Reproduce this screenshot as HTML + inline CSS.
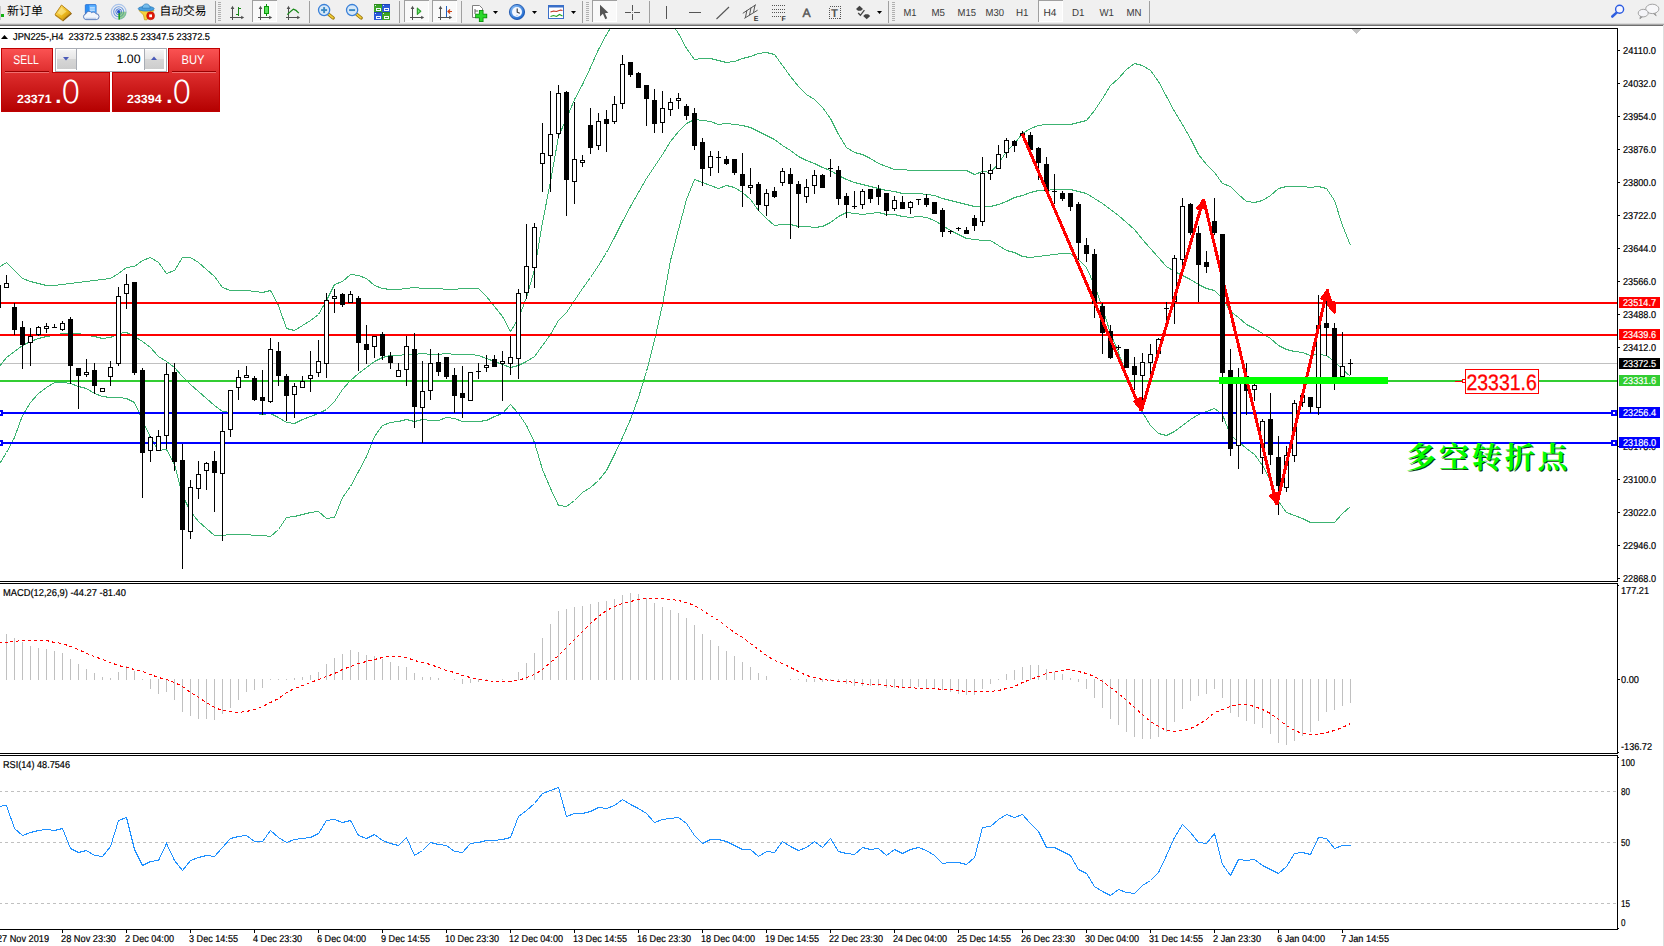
<!DOCTYPE html>
<html><head><meta charset="utf-8"><title>JPN225 H4</title>
<style>
html,body{margin:0;padding:0;background:#fff;}
body{width:1664px;height:946px;overflow:hidden;position:relative;font-family:"Liberation Sans","Noto Sans CJK SC",sans-serif;}
svg text{white-space:pre}
</style></head><body>
<svg width="1664" height="946" viewBox="0 0 1664 946" style="position:absolute;left:0;top:0" shape-rendering="crispEdges" text-rendering="geometricPrecision" font-family="'Liberation Sans',sans-serif">
<defs><clipPath id="cm"><rect x="0" y="29" width="1617" height="552"/></clipPath><clipPath id="cd"><rect x="0" y="929" width="1664" height="17"/></clipPath></defs>
<rect x="0" y="28" width="1618" height="1" fill="#000"/>
<rect x="1617" y="28" width="1" height="554" fill="#000"/>
<rect x="0" y="581" width="1618" height="1" fill="#000"/>
<rect x="0" y="583" width="1618" height="1" fill="#000"/>
<rect x="1617" y="583" width="1" height="171" fill="#000"/>
<rect x="0" y="753" width="1618" height="1" fill="#000"/>
<rect x="0" y="755" width="1618" height="1" fill="#000"/>
<rect x="1617" y="755" width="1" height="175" fill="#000"/>
<rect x="0" y="929" width="1618" height="1" fill="#000"/>
<defs><linearGradient id="gr" x1="0" y1="0" x2="0" y2="1"><stop offset="0" stop-color="#fb5353"/><stop offset="0.35" stop-color="#e03030"/><stop offset="1" stop-color="#b40000"/></linearGradient><linearGradient id="gb" x1="0" y1="0" x2="0" y2="1"><stop offset="0" stop-color="#f4f4f4"/><stop offset="0.45" stop-color="#e6e6e6"/><stop offset="0.5" stop-color="#d6d6d6"/><stop offset="1" stop-color="#cdcdcd"/></linearGradient><linearGradient id="gy" x1="0" y1="0" x2="1" y2="1"><stop offset="0" stop-color="#ffe680"/><stop offset="0.55" stop-color="#eebc20"/><stop offset="1" stop-color="#b87c08"/></linearGradient><radialGradient id="gc" cx="0.4" cy="0.35" r="0.7"><stop offset="0" stop-color="#9fd0ff"/><stop offset="1" stop-color="#1560c8"/></radialGradient></defs>
<rect x="0" y="0" width="1664" height="23" fill="#f0f0f0"/>
<rect x="0" y="23" width="1664" height="1" fill="#dadada"/>
<rect x="0" y="24" width="1664" height="1" fill="#a9a9a9"/>
<rect x="0" y="25" width="1664" height="1" fill="#6f6f6f"/>
<rect x="0" y="26" width="1664" height="2" fill="#ffffff"/>
<rect x="215" y="1" width="1" height="22" fill="#a0a0a0"/>
<rect x="309" y="1" width="1" height="22" fill="#a0a0a0"/>
<rect x="399" y="1" width="1" height="22" fill="#a0a0a0"/>
<rect x="461" y="1" width="1" height="22" fill="#a0a0a0"/>
<rect x="582" y="1" width="1" height="22" fill="#a0a0a0"/>
<rect x="649" y="1" width="1" height="22" fill="#a0a0a0"/>
<rect x="888" y="1" width="1" height="22" fill="#a0a0a0"/>
<rect x="1149" y="1" width="1" height="22" fill="#a0a0a0"/>
<rect x="218" y="2" width="3" height="1" fill="#b0b0b0"/>
<rect x="218" y="4" width="3" height="1" fill="#b0b0b0"/>
<rect x="218" y="6" width="3" height="1" fill="#b0b0b0"/>
<rect x="218" y="8" width="3" height="1" fill="#b0b0b0"/>
<rect x="218" y="10" width="3" height="1" fill="#b0b0b0"/>
<rect x="218" y="12" width="3" height="1" fill="#b0b0b0"/>
<rect x="218" y="14" width="3" height="1" fill="#b0b0b0"/>
<rect x="218" y="16" width="3" height="1" fill="#b0b0b0"/>
<rect x="218" y="18" width="3" height="1" fill="#b0b0b0"/>
<rect x="218" y="20" width="3" height="1" fill="#b0b0b0"/>
<rect x="586" y="2" width="3" height="1" fill="#b0b0b0"/>
<rect x="586" y="4" width="3" height="1" fill="#b0b0b0"/>
<rect x="586" y="6" width="3" height="1" fill="#b0b0b0"/>
<rect x="586" y="8" width="3" height="1" fill="#b0b0b0"/>
<rect x="586" y="10" width="3" height="1" fill="#b0b0b0"/>
<rect x="586" y="12" width="3" height="1" fill="#b0b0b0"/>
<rect x="586" y="14" width="3" height="1" fill="#b0b0b0"/>
<rect x="586" y="16" width="3" height="1" fill="#b0b0b0"/>
<rect x="586" y="18" width="3" height="1" fill="#b0b0b0"/>
<rect x="586" y="20" width="3" height="1" fill="#b0b0b0"/>
<rect x="892" y="2" width="3" height="1" fill="#b0b0b0"/>
<rect x="892" y="4" width="3" height="1" fill="#b0b0b0"/>
<rect x="892" y="6" width="3" height="1" fill="#b0b0b0"/>
<rect x="892" y="8" width="3" height="1" fill="#b0b0b0"/>
<rect x="892" y="10" width="3" height="1" fill="#b0b0b0"/>
<rect x="892" y="12" width="3" height="1" fill="#b0b0b0"/>
<rect x="892" y="14" width="3" height="1" fill="#b0b0b0"/>
<rect x="892" y="16" width="3" height="1" fill="#b0b0b0"/>
<rect x="892" y="18" width="3" height="1" fill="#b0b0b0"/>
<rect x="892" y="20" width="3" height="1" fill="#b0b0b0"/>
<rect x="252" y="0" width="25" height="22" fill="#f9f9f9"/>
<rect x="252" y="0" width="25" height="1" fill="#a0a0a0"/><rect x="252" y="0" width="1" height="22" fill="#a0a0a0"/><rect x="276" y="1" width="1" height="21" fill="#ffffff"/><rect x="253" y="21" width="24" height="1" fill="#ffffff"/>
<rect x="404" y="0" width="25" height="22" fill="#f9f9f9"/>
<rect x="404" y="0" width="25" height="1" fill="#a0a0a0"/><rect x="404" y="0" width="1" height="22" fill="#a0a0a0"/><rect x="428" y="1" width="1" height="21" fill="#ffffff"/><rect x="405" y="21" width="24" height="1" fill="#ffffff"/>
<rect x="432" y="0" width="25" height="22" fill="#f9f9f9"/>
<rect x="432" y="0" width="25" height="1" fill="#a0a0a0"/><rect x="432" y="0" width="1" height="22" fill="#a0a0a0"/><rect x="456" y="1" width="1" height="21" fill="#ffffff"/><rect x="433" y="21" width="24" height="1" fill="#ffffff"/>
<rect x="592" y="0" width="25" height="22" fill="#f9f9f9"/>
<rect x="592" y="0" width="25" height="1" fill="#a0a0a0"/><rect x="592" y="0" width="1" height="22" fill="#a0a0a0"/><rect x="616" y="1" width="1" height="21" fill="#ffffff"/><rect x="593" y="21" width="24" height="1" fill="#ffffff"/>
<rect x="1038" y="0" width="25" height="22" fill="#f9f9f9"/>
<rect x="1038" y="0" width="25" height="1" fill="#a0a0a0"/><rect x="1038" y="0" width="1" height="22" fill="#a0a0a0"/><rect x="1062" y="1" width="1" height="21" fill="#ffffff"/><rect x="1039" y="21" width="24" height="1" fill="#ffffff"/>
<rect x="0" y="14" width="4" height="3" fill="#12b012"/>
<rect x="0" y="6" width="1" height="14" fill="#c8c8c8"/>
<text x="7" y="15.4" font-family="'Liberation Sans','Noto Sans CJK SC','WenQuanYi Zen Hei',sans-serif" font-size="12" fill="#000" textLength="36" lengthAdjust="spacingAndGlyphs">新订单</text>
<text x="159.5" y="15.4" font-family="'Liberation Sans','Noto Sans CJK SC','WenQuanYi Zen Hei',sans-serif" font-size="12" fill="#000" textLength="47" lengthAdjust="spacingAndGlyphs">自动交易</text>
<g shape-rendering="geometricPrecision"><polygon points="62.9,21.4 72,13.8 71,12.8 62.5,20" fill="#8a5c06"/><polygon points="55,14.5 62.5,20 62.8,21.2 55.2,15.8" fill="#b98818"/><polygon points="61.5,5 71,12.8 62.5,20 55,14.5" fill="url(#gy)" stroke="#b07a0c" stroke-width="0.9"/><polygon points="61.3,7.4 66.5,11.6 61.5,15.6 57.6,13" fill="#fff2a8" opacity="0.5"/></g>
<g shape-rendering="geometricPrecision"><rect x="85.3" y="4.6" width="10.8" height="9.4" rx="0.8" fill="#2a8ff6" stroke="#1a62c8" stroke-width="0.7"/><rect x="89.2" y="5.2" width="6.4" height="8" fill="#62b4ff"/><rect x="90" y="7.4" width="4.8" height="1" fill="#eef6ff"/><rect x="90" y="9.6" width="4.8" height="1" fill="#eef6ff"/><path d="M86,19.6 a2.9,2.9 0 0 1 -0.2,-5.7 a3.3,3.3 0 0 1 5.9,-1.2 a2.6,2.6 0 0 1 4.2,1 a2.9,2.9 0 0 1 0.4,5.9 z" fill="#f2f6fc" stroke="#4a6fb4" stroke-width="0.9"/><path d="M85.6,18.4 h10.6" stroke="#c4d2ea" stroke-width="1.4"/></g>
<g shape-rendering="geometricPrecision" fill="none"><circle cx="118.7" cy="11.8" r="7.4" stroke="#a9c3ea" stroke-width="1.1"/><circle cx="118.7" cy="11.8" r="5" stroke="#6d9be2" stroke-width="1.1"/><circle cx="118.7" cy="11.8" r="2.9" stroke="#4a7ada" stroke-width="1"/><path d="M118.7,11.8 L126.5,11.8 A7.8,7.8 0 0 1 118.7,19.6 Z" fill="#5cb85c" opacity="0.6"/><path d="M119.2,12 v7.6" stroke="#18a018" stroke-width="1.5"/><circle cx="118.7" cy="11.8" r="1.7" fill="#2050c8" stroke="none"/></g>
<g shape-rendering="geometricPrecision"><polygon points="139,10.5 154,10.5 149.5,15 147,19.8 144.5,19.8 143.5,15" fill="#f6d23c" stroke="#c49a10" stroke-width="0.7"/><ellipse cx="146.2" cy="8.7" rx="8" ry="2.4" fill="#4aa0e0" stroke="#2a78b8" stroke-width="0.7"/><path d="M142.2,8.2 a4,4.3 0 0 1 8,0 z" fill="#74bcec" stroke="#2a78b8" stroke-width="0.7"/><circle cx="150.6" cy="15.8" r="4" fill="#e01808" stroke="#b41000" stroke-width="0.5"/><rect x="149.2" y="14.4" width="2.8" height="2.8" fill="#fff"/></g>
<path d="M232.5,7.5 v12.5 M230,17.5 h13" stroke="#505050" stroke-width="1" fill="none"/><polygon points="232.5,5.8 230.7,8.9 234.3,8.9" fill="#505050" shape-rendering="geometricPrecision"/><polygon points="244.2,17.5 241.2,15.7 241.2,19.3" fill="#505050" shape-rendering="geometricPrecision"/><path d="M238.5,7 v9 M238.5,8.5 h2.5 M236,14.5 h2.5" stroke="#1a8a1a" stroke-width="1.4" fill="none"/>
<path d="M260.5,7.5 v12.5 M258,17.5 h13" stroke="#505050" stroke-width="1" fill="none"/><polygon points="260.5,5.8 258.7,8.9 262.3,8.9" fill="#505050" shape-rendering="geometricPrecision"/><polygon points="272.2,17.5 269.2,15.7 269.2,19.3" fill="#505050" shape-rendering="geometricPrecision"/><rect x="266" y="4" width="1" height="12" fill="#0c8c0c"/><rect x="264" y="6" width="5" height="8" fill="#0c9a0c"/><rect x="265" y="7" width="3" height="6" fill="#5ce05c"/>
<path d="M288.5,7.5 v12.5 M286,17.5 h13" stroke="#505050" stroke-width="1" fill="none"/><polygon points="288.5,5.8 286.7,8.9 290.3,8.9" fill="#505050" shape-rendering="geometricPrecision"/><polygon points="300.2,17.5 297.2,15.7 297.2,19.3" fill="#505050" shape-rendering="geometricPrecision"/><path d="M287.3,14.6 Q290.5,11.2 293.3,9.2 Q296,9.8 298.8,13.2" stroke="#1a8a1a" stroke-width="1.2" fill="none" shape-rendering="geometricPrecision"/>
<g shape-rendering="geometricPrecision"><line x1="328.6" y1="14.2" x2="333.2" y2="18" stroke="#9a7408" stroke-width="3.3" stroke-linecap="round"/><line x1="328.8" y1="14.3" x2="333" y2="17.8" stroke="#f2cf3a" stroke-width="1.7" stroke-linecap="round"/><circle cx="324.1" cy="10.1" r="5.6" fill="#d6e8f8" stroke="#3a80d8" stroke-width="1.3"/><line x1="321.1" y1="10.1" x2="327.1" y2="10.1" stroke="#3a88c4" stroke-width="1.9"/><line x1="324.1" y1="7.1" x2="324.1" y2="13.1" stroke="#3a88c4" stroke-width="1.9"/></g>
<g shape-rendering="geometricPrecision"><line x1="356.6" y1="14.2" x2="361.2" y2="18" stroke="#9a7408" stroke-width="3.3" stroke-linecap="round"/><line x1="356.8" y1="14.3" x2="361" y2="17.8" stroke="#f2cf3a" stroke-width="1.7" stroke-linecap="round"/><circle cx="352.1" cy="10.1" r="5.6" fill="#d6e8f8" stroke="#3a80d8" stroke-width="1.3"/><line x1="349.1" y1="10.1" x2="355.1" y2="10.1" stroke="#3a88c4" stroke-width="1.9"/></g>
<rect x="374" y="4" width="8" height="8" fill="#3aa428"/><rect x="374" y="4" width="8" height="1" fill="#2c8a1c"/><rect x="375.5" y="7.5" width="5" height="3.5" fill="#f4f8ff"/><rect x="376.5" y="8.5" width="3" height="1" fill="#3aa428"/><rect x="375" y="5" width="1" height="1" fill="#dfe8ff"/>
<rect x="382" y="4" width="8" height="8" fill="#2a5ad8"/><rect x="382" y="4" width="8" height="1" fill="#1c44b8"/><rect x="383.5" y="7.5" width="5" height="3.5" fill="#f4f8ff"/><rect x="384.5" y="8.5" width="3" height="1" fill="#2a5ad8"/><rect x="383" y="5" width="1" height="1" fill="#dfe8ff"/>
<rect x="374" y="12" width="8" height="8" fill="#2a5ad8"/><rect x="374" y="12" width="8" height="1" fill="#1c44b8"/><rect x="375.5" y="15.5" width="5" height="3.5" fill="#f4f8ff"/><rect x="376.5" y="16.5" width="3" height="1" fill="#2a5ad8"/><rect x="375" y="13" width="1" height="1" fill="#dfe8ff"/>
<rect x="382" y="12" width="8" height="8" fill="#3aa428"/><rect x="382" y="12" width="8" height="1" fill="#2c8a1c"/><rect x="383.5" y="15.5" width="5" height="3.5" fill="#f4f8ff"/><rect x="384.5" y="16.5" width="3" height="1" fill="#3aa428"/><rect x="383" y="13" width="1" height="1" fill="#dfe8ff"/>
<path d="M412.5,7.5 v12.5 M410,17.5 h13" stroke="#505050" stroke-width="1" fill="none"/><polygon points="412.5,5.8 410.7,8.9 414.3,8.9" fill="#505050" shape-rendering="geometricPrecision"/><polygon points="424.2,17.5 421.2,15.7 421.2,19.3" fill="#505050" shape-rendering="geometricPrecision"/><polygon points="417.2,7.8 421.2,11.3 417.2,14.8" fill="#20b020" stroke="#0a800a" stroke-width="0.6" shape-rendering="geometricPrecision"/><polygon points="418,9.6 419.8,11.3 418,13" fill="#80e880" shape-rendering="geometricPrecision"/>
<path d="M440.5,7.5 v12.5 M438,17.5 h13" stroke="#505050" stroke-width="1" fill="none"/><polygon points="440.5,5.8 438.7,8.9 442.3,8.9" fill="#505050" shape-rendering="geometricPrecision"/><polygon points="452.2,17.5 449.2,15.7 449.2,19.3" fill="#505050" shape-rendering="geometricPrecision"/><rect x="446" y="6" width="1" height="11" fill="#2060c0"/><path d="M452,11.5 h-4 M450,9.5 l-2,2 l2,2" stroke="#d04010" stroke-width="1.2" fill="none" shape-rendering="geometricPrecision"/>
<g shape-rendering="geometricPrecision"><path d="M472.5,5.5 h7 l3,3 v9 h-10 z" fill="#fff" stroke="#808080" stroke-width="1"/><path d="M475,9 v5 M475,11 h3" stroke="#606060" stroke-width="1" fill="none"/><path d="M481.2,10 v12 M475.2,16 h12" stroke="#0a860a" stroke-width="4.6"/><path d="M481.2,10.8 v10.4 M476,16 h10.4" stroke="#2cd82c" stroke-width="3"/></g>
<g shape-rendering="geometricPrecision"><circle cx="517" cy="12" r="7.6" fill="url(#gc)" stroke="#0f4aa8" stroke-width="0.8"/><circle cx="517" cy="12" r="5" fill="#f4f8ff"/><path d="M517.2,8.6 v3.6 l2.6,1" stroke="#303030" stroke-width="1.1" fill="none"/><circle cx="517" cy="15.3" r="0.6" fill="#7ab0f0"/></g>
<g shape-rendering="geometricPrecision"><rect x="548.5" y="5.5" width="15" height="13" fill="#fff" stroke="#3a6fc8" stroke-width="1"/><rect x="548" y="5" width="16" height="2.5" fill="#3a6fc8"/><path d="M550.5,12 l3,-1 l3,0.5 l4,-1.5 l2,0.5" stroke="#c03020" stroke-width="1.1" fill="none"/><path d="M550.5,16.5 l3,-1 l3,1 l3,-2 l3,1.5" stroke="#20a020" stroke-width="1.1" fill="none"/></g>
<polygon points="493,11 498,11 495.5,14" fill="#000" shape-rendering="geometricPrecision"/>
<polygon points="532,11 537,11 534.5,14" fill="#000" shape-rendering="geometricPrecision"/>
<polygon points="571,11 576,11 573.5,14" fill="#000" shape-rendering="geometricPrecision"/>
<polygon points="877,11 882,11 879.5,14" fill="#000" shape-rendering="geometricPrecision"/>
<polygon points="600,4.8 600,16.4 602.9,13.8 605.3,19.2 607.2,18.3 604.9,13.2 608.4,12.8" fill="#555" shape-rendering="geometricPrecision"/>
<rect x="632" y="5" width="1" height="6" fill="#555"/><rect x="632" y="14" width="1" height="6" fill="#555"/><rect x="625" y="12" width="6" height="1" fill="#555"/><rect x="634" y="12" width="6" height="1" fill="#555"/><rect x="632" y="12" width="1" height="1" fill="#999"/>
<rect x="666" y="6" width="1" height="13" fill="#555"/><rect x="689" y="12" width="12" height="1" fill="#555"/>
<line x1="716.5" y1="19" x2="729" y2="7" stroke="#555" stroke-width="1.1" shape-rendering="geometricPrecision"/>
<g shape-rendering="geometricPrecision" stroke="#555" stroke-width="1" fill="none"><path d="M742.8,13.3 L756,4.6 M744.3,18.4 L757.6,10.2 M746.9,10.2 l-1.5,7.6 M751,7.6 l-1.5,7.6 M755,5 l-1.5,7.6"/></g><text x="753.8" y="20.6" font-size="7" font-weight="bold" fill="#333">E</text>
<line x1="772" y1="5.5" x2="785" y2="5.5" stroke="#555" stroke-width="1" stroke-dasharray="1 1"/>
<line x1="772" y1="9.5" x2="785" y2="9.5" stroke="#555" stroke-width="1" stroke-dasharray="1 1"/>
<line x1="772" y1="12.5" x2="785" y2="12.5" stroke="#555" stroke-width="1" stroke-dasharray="1 1"/>
<line x1="772" y1="16.5" x2="781" y2="16.5" stroke="#555" stroke-width="1" stroke-dasharray="1 1"/>
<text x="781.4" y="20.6" font-size="7" font-weight="bold" fill="#333">F</text>
<text x="802.6" y="17" font-size="12.2" fill="#555" stroke="#555" stroke-width="0.45">A</text>
<rect x="829.5" y="6.5" width="11" height="12" fill="none" stroke="#555" stroke-width="1" stroke-dasharray="1 1"/><text x="830.9" y="17" font-size="11.4" font-weight="bold" fill="#555">T</text>
<g shape-rendering="geometricPrecision" fill="#444"><polygon points="859.5,5.8 863,9 861,10.8 858,10.8 856,9"/><polygon points="866.7,19.2 863.2,16 865.2,14.2 868.2,14.2 870.2,16"/><path d="M858.2,13 l2.2,2.3 l4,-5.2" stroke="#444" stroke-width="1.3" fill="none"/></g>
<text x="903.5" y="16" font-size="10.2" fill="#3a3a3a" textLength="13" lengthAdjust="spacingAndGlyphs" shape-rendering="geometricPrecision">M1</text>
<text x="931.5" y="16" font-size="10.2" fill="#3a3a3a" textLength="13.5" lengthAdjust="spacingAndGlyphs" shape-rendering="geometricPrecision">M5</text>
<text x="957.5" y="16" font-size="10.2" fill="#3a3a3a" textLength="18.5" lengthAdjust="spacingAndGlyphs" shape-rendering="geometricPrecision">M15</text>
<text x="985.5" y="16" font-size="10.2" fill="#3a3a3a" textLength="18.5" lengthAdjust="spacingAndGlyphs" shape-rendering="geometricPrecision">M30</text>
<text x="1016" y="16" font-size="10.2" fill="#3a3a3a" textLength="12.5" lengthAdjust="spacingAndGlyphs" shape-rendering="geometricPrecision">H1</text>
<text x="1043.5" y="16" font-size="10.2" fill="#3a3a3a" textLength="13" lengthAdjust="spacingAndGlyphs" shape-rendering="geometricPrecision">H4</text>
<text x="1072" y="16" font-size="10.2" fill="#3a3a3a" textLength="12.5" lengthAdjust="spacingAndGlyphs" shape-rendering="geometricPrecision">D1</text>
<text x="1099.5" y="16" font-size="10.2" fill="#3a3a3a" textLength="14.5" lengthAdjust="spacingAndGlyphs" shape-rendering="geometricPrecision">W1</text>
<text x="1126.5" y="16" font-size="10.2" fill="#3a3a3a" textLength="15" lengthAdjust="spacingAndGlyphs" shape-rendering="geometricPrecision">MN</text>
<g shape-rendering="geometricPrecision"><line x1="1616.6" y1="12.6" x2="1612.3" y2="16.5" stroke="#2f5fe0" stroke-width="2.6" stroke-linecap="round"/><circle cx="1619.6" cy="9.3" r="4" fill="#f6f6ff" stroke="#2a5ae0" stroke-width="1.4"/></g>
<g shape-rendering="geometricPrecision" stroke="#9a9a9a" stroke-width="0.9"><path d="M1655,13.2 l1.2,2.6 l-3,-2.4 z" fill="#888"/><ellipse cx="1652.3" cy="8.9" rx="6.6" ry="4.7" fill="#f7f7f9"/><path d="M1640.5,16.2 l-0.6,2.6 l2.8,-2.2 z" fill="#888"/><ellipse cx="1643.2" cy="13.1" rx="5" ry="3.8" fill="#f4f4f8"/></g>
<rect x="1663" y="25" width="1" height="921" fill="#dedede"/>
<g clip-path="url(#cm)">
<rect x="0" y="363" width="1617" height="1" fill="#c0c0c0"/>
<polyline points="-1.5,267.5 6.5,262.5 14.5,270.5 22.5,278.5 30.5,281.5 38.5,283.5 46.5,285.5 54.5,285.5 62.5,284.5 70.5,283.5 78.5,282.5 86.5,281.5 94.5,280.5 102.5,279.5 110.5,278.5 118.5,273.5 126.5,267.5 134.5,266.5 142.5,260.5 150.5,257.5 158.5,262.5 166.5,273.5 174.5,270.5 182.5,257.5 190.5,257.5 198.5,262.5 206.5,269.5 214.5,276.5 222.5,287.5 230.5,290.5 238.5,290.5 246.5,290.5 254.5,291.5 262.5,292.5 270.5,290.5 278.5,305.5 286.5,328.5 294.5,330.5 302.5,325.5 310.5,320.5 318.5,314.5 326.5,300.5 334.5,284.5 342.5,281.5 350.5,274.5 358.5,275.5 366.5,278.5 374.5,285.5 382.5,288.5 390.5,289.5 398.5,289.5 406.5,288.5 414.5,287.5 422.5,288.5 430.5,288.5 438.5,288.5 446.5,289.5 454.5,289.5 462.5,288.5 470.5,288.5 478.5,288.5 486.5,296.5 494.5,306.5 502.5,316.5 510.5,331.5 518.5,318.5 526.5,297.5 534.5,269.5 542.5,222.5 550.5,181.5 558.5,136.5 566.5,118.5 574.5,99.5 582.5,84.5 590.5,67.5 598.5,49.5 606.5,34.5 614.5,21.5 622.5,5.5 630.5,-7.5 638.5,-13.5 646.5,-14.5 654.5,-7.5 662.5,3.5 670.5,21.5 678.5,33.5 686.5,48.5 694.5,59.5 702.5,58.5 710.5,58.5 718.5,60.5 726.5,62.5 734.5,61.5 742.5,58.5 750.5,56.5 758.5,53.5 766.5,52.5 774.5,54.5 782.5,65.5 790.5,76.5 798.5,86.5 806.5,94.5 814.5,99.5 822.5,107.5 830.5,118.5 838.5,134.5 846.5,147.5 854.5,152.5 862.5,154.5 870.5,158.5 878.5,163.5 886.5,166.5 894.5,169.5 902.5,169.5 910.5,170.5 918.5,170.5 926.5,170.5 934.5,170.5 942.5,170.5 950.5,170.5 958.5,170.5 966.5,170.5 974.5,174.5 982.5,171.5 990.5,172.5 998.5,163.5 1006.5,151.5 1014.5,143.5 1022.5,133.5 1030.5,128.5 1038.5,125.5 1046.5,124.5 1054.5,124.5 1062.5,124.5 1070.5,124.5 1078.5,122.5 1086.5,120.5 1094.5,110.5 1102.5,98.5 1110.5,85.5 1118.5,78.5 1126.5,69.5 1134.5,63.5 1142.5,65.5 1150.5,70.5 1158.5,81.5 1166.5,96.5 1174.5,111.5 1182.5,124.5 1190.5,138.5 1198.5,154.5 1206.5,164.5 1214.5,172.5 1222.5,183.5 1230.5,186.5 1238.5,194.5 1246.5,201.5 1254.5,202.5 1262.5,200.5 1270.5,195.5 1278.5,188.5 1286.5,186.5 1294.5,186.5 1302.5,186.5 1310.5,187.5 1318.5,186.5 1326.5,188.5 1334.5,200.5 1342.5,225.5 1350.5,245.5" fill="none" stroke="#3cb371" stroke-width="1"/>
<polyline points="-1.5,367.5 6.5,357.5 14.5,351.5 22.5,345.5 30.5,341.5 38.5,338.5 46.5,336.5 54.5,335.5 62.5,333.5 70.5,333.5 78.5,333.5 86.5,335.5 94.5,336.5 102.5,338.5 110.5,337.5 118.5,333.5 126.5,332.5 134.5,336.5 142.5,341.5 150.5,347.5 158.5,356.5 166.5,361.5 174.5,367.5 182.5,376.5 190.5,384.5 198.5,391.5 206.5,398.5 214.5,405.5 222.5,411.5 230.5,412.5 238.5,412.5 246.5,412.5 254.5,413.5 262.5,414.5 270.5,413.5 278.5,417.5 286.5,422.5 294.5,423.5 302.5,419.5 310.5,416.5 318.5,413.5 326.5,409.5 334.5,401.5 342.5,389.5 350.5,380.5 358.5,373.5 366.5,367.5 374.5,361.5 382.5,357.5 390.5,355.5 398.5,355.5 406.5,354.5 414.5,354.5 422.5,353.5 430.5,354.5 438.5,354.5 446.5,353.5 454.5,354.5 462.5,354.5 470.5,354.5 478.5,355.5 486.5,358.5 494.5,361.5 502.5,364.5 510.5,367.5 518.5,365.5 526.5,361.5 534.5,356.5 542.5,345.5 550.5,334.5 558.5,320.5 566.5,312.5 574.5,300.5 582.5,288.5 590.5,277.5 598.5,265.5 606.5,252.5 614.5,237.5 622.5,221.5 630.5,206.5 638.5,192.5 646.5,178.5 654.5,166.5 662.5,154.5 670.5,141.5 678.5,131.5 686.5,123.5 694.5,119.5 702.5,120.5 710.5,121.5 718.5,124.5 726.5,123.5 734.5,124.5 742.5,125.5 750.5,127.5 758.5,131.5 766.5,135.5 774.5,139.5 782.5,145.5 790.5,150.5 798.5,156.5 806.5,160.5 814.5,163.5 822.5,167.5 830.5,170.5 838.5,175.5 846.5,179.5 854.5,182.5 862.5,184.5 870.5,186.5 878.5,188.5 886.5,190.5 894.5,191.5 902.5,193.5 910.5,193.5 918.5,193.5 926.5,194.5 934.5,195.5 942.5,198.5 950.5,200.5 958.5,202.5 966.5,204.5 974.5,206.5 982.5,206.5 990.5,206.5 998.5,204.5 1006.5,201.5 1014.5,197.5 1022.5,195.5 1030.5,192.5 1038.5,190.5 1046.5,190.5 1054.5,189.5 1062.5,189.5 1070.5,189.5 1078.5,191.5 1086.5,193.5 1094.5,198.5 1102.5,203.5 1110.5,209.5 1118.5,215.5 1126.5,222.5 1134.5,229.5 1142.5,239.5 1150.5,248.5 1158.5,257.5 1166.5,266.5 1174.5,271.5 1182.5,275.5 1190.5,279.5 1198.5,284.5 1206.5,288.5 1214.5,290.5 1222.5,298.5 1230.5,311.5 1238.5,317.5 1246.5,324.5 1254.5,328.5 1262.5,333.5 1270.5,338.5 1278.5,345.5 1286.5,349.5 1294.5,351.5 1302.5,352.5 1310.5,355.5 1318.5,354.5 1326.5,355.5 1334.5,361.5 1342.5,369.5 1350.5,376.5" fill="none" stroke="#3cb371" stroke-width="1"/>
<polyline points="-1.5,465.5 6.5,452.5 14.5,437.5 22.5,415.5 30.5,402.5 38.5,393.5 46.5,387.5 54.5,382.5 62.5,382.5 70.5,383.5 78.5,386.5 86.5,388.5 94.5,393.5 102.5,396.5 110.5,397.5 118.5,397.5 126.5,398.5 134.5,402.5 142.5,420.5 150.5,437.5 158.5,450.5 166.5,449.5 174.5,464.5 182.5,495.5 190.5,511.5 198.5,521.5 206.5,528.5 214.5,535.5 222.5,535.5 230.5,534.5 238.5,534.5 246.5,534.5 254.5,535.5 262.5,535.5 270.5,536.5 278.5,529.5 286.5,517.5 294.5,516.5 302.5,514.5 310.5,512.5 318.5,511.5 326.5,518.5 334.5,517.5 342.5,497.5 350.5,486.5 358.5,471.5 366.5,456.5 374.5,436.5 382.5,425.5 390.5,422.5 398.5,421.5 406.5,419.5 414.5,421.5 422.5,419.5 430.5,420.5 438.5,420.5 446.5,417.5 454.5,418.5 462.5,421.5 470.5,421.5 478.5,421.5 486.5,420.5 494.5,416.5 502.5,413.5 510.5,404.5 518.5,413.5 526.5,425.5 534.5,442.5 542.5,469.5 550.5,488.5 558.5,505.5 566.5,506.5 574.5,500.5 582.5,492.5 590.5,487.5 598.5,480.5 606.5,470.5 614.5,454.5 622.5,437.5 630.5,419.5 638.5,397.5 646.5,371.5 654.5,340.5 662.5,304.5 670.5,260.5 678.5,229.5 686.5,199.5 694.5,179.5 702.5,182.5 710.5,185.5 718.5,188.5 726.5,185.5 734.5,187.5 742.5,192.5 750.5,199.5 758.5,210.5 766.5,218.5 774.5,225.5 782.5,224.5 790.5,224.5 798.5,226.5 806.5,226.5 814.5,227.5 822.5,226.5 830.5,222.5 838.5,216.5 846.5,212.5 854.5,213.5 862.5,214.5 870.5,213.5 878.5,212.5 886.5,214.5 894.5,214.5 902.5,216.5 910.5,217.5 918.5,216.5 926.5,217.5 934.5,220.5 942.5,225.5 950.5,230.5 958.5,234.5 966.5,238.5 974.5,239.5 982.5,240.5 990.5,240.5 998.5,245.5 1006.5,250.5 1014.5,252.5 1022.5,256.5 1030.5,257.5 1038.5,256.5 1046.5,255.5 1054.5,254.5 1062.5,253.5 1070.5,253.5 1078.5,259.5 1086.5,267.5 1094.5,285.5 1102.5,307.5 1110.5,333.5 1118.5,352.5 1126.5,374.5 1134.5,395.5 1142.5,412.5 1150.5,425.5 1158.5,433.5 1166.5,435.5 1174.5,431.5 1182.5,425.5 1190.5,419.5 1198.5,414.5 1206.5,411.5 1214.5,408.5 1222.5,414.5 1230.5,435.5 1238.5,441.5 1246.5,448.5 1254.5,454.5 1262.5,465.5 1270.5,480.5 1278.5,501.5 1286.5,512.5 1294.5,515.5 1302.5,518.5 1310.5,522.5 1318.5,522.5 1326.5,522.5 1334.5,522.5 1342.5,513.5 1350.5,506.5" fill="none" stroke="#3cb371" stroke-width="1"/>
<rect x="0" y="302" width="1617" height="2" fill="#ff0000"/>
<rect x="0" y="334" width="1617" height="2" fill="#ff0000"/>
<rect x="0" y="380" width="1617" height="2" fill="#32cd32"/>
<rect x="0" y="412" width="1617" height="2" fill="#0000ff"/>
<rect x="0" y="442" width="1617" height="2" fill="#0000ff"/>
<rect x="-2" y="285" width="1" height="23" fill="#000"/>
<rect x="-4" y="285" width="5" height="23" fill="#000"/>
<rect x="6" y="275" width="1" height="13" fill="#000"/>
<rect x="4" y="283" width="5" height="5" fill="#000"/>
<rect x="5" y="284" width="3" height="3" fill="#fff"/>
<rect x="14" y="303" width="1" height="32" fill="#000"/>
<rect x="12" y="307" width="5" height="23" fill="#000"/>
<rect x="22" y="321" width="1" height="48" fill="#000"/>
<rect x="20" y="327" width="5" height="18" fill="#000"/>
<rect x="30" y="328" width="1" height="38" fill="#000"/>
<rect x="28" y="336" width="5" height="7" fill="#000"/>
<rect x="29" y="337" width="3" height="5" fill="#fff"/>
<rect x="38" y="326" width="1" height="10" fill="#000"/>
<rect x="36" y="327" width="5" height="8" fill="#000"/>
<rect x="37" y="328" width="3" height="6" fill="#fff"/>
<rect x="46" y="323" width="1" height="10" fill="#000"/>
<rect x="44" y="326" width="5" height="3" fill="#000"/>
<rect x="45" y="327" width="3" height="1" fill="#fff"/>
<rect x="54" y="324" width="1" height="4" fill="#000"/>
<rect x="52" y="327" width="5" height="1" fill="#000"/>
<rect x="62" y="321" width="1" height="10" fill="#000"/>
<rect x="60" y="323" width="5" height="7" fill="#000"/>
<rect x="61" y="324" width="3" height="5" fill="#fff"/>
<rect x="70" y="317" width="1" height="67" fill="#000"/>
<rect x="68" y="319" width="5" height="47" fill="#000"/>
<rect x="78" y="368" width="1" height="41" fill="#000"/>
<rect x="76" y="368" width="5" height="8" fill="#000"/>
<rect x="86" y="359" width="1" height="18" fill="#000"/>
<rect x="84" y="372" width="5" height="3" fill="#000"/>
<rect x="85" y="373" width="3" height="1" fill="#fff"/>
<rect x="94" y="363" width="1" height="31" fill="#000"/>
<rect x="92" y="370" width="5" height="16" fill="#000"/>
<rect x="102" y="388" width="1" height="4" fill="#000"/>
<rect x="100" y="388" width="5" height="4" fill="#000"/>
<rect x="101" y="389" width="3" height="2" fill="#fff"/>
<rect x="110" y="361" width="1" height="25" fill="#000"/>
<rect x="108" y="367" width="5" height="10" fill="#000"/>
<rect x="109" y="368" width="3" height="8" fill="#fff"/>
<rect x="118" y="287" width="1" height="79" fill="#000"/>
<rect x="116" y="296" width="5" height="68" fill="#000"/>
<rect x="117" y="297" width="3" height="66" fill="#fff"/>
<rect x="126" y="274" width="1" height="35" fill="#000"/>
<rect x="124" y="284" width="5" height="10" fill="#000"/>
<rect x="125" y="285" width="3" height="8" fill="#fff"/>
<rect x="134" y="282" width="1" height="93" fill="#000"/>
<rect x="132" y="282" width="5" height="91" fill="#000"/>
<rect x="142" y="368" width="1" height="130" fill="#000"/>
<rect x="140" y="370" width="5" height="83" fill="#000"/>
<rect x="150" y="436" width="1" height="26" fill="#000"/>
<rect x="148" y="437" width="5" height="14" fill="#000"/>
<rect x="149" y="438" width="3" height="12" fill="#fff"/>
<rect x="158" y="430" width="1" height="21" fill="#000"/>
<rect x="156" y="436" width="5" height="15" fill="#000"/>
<rect x="157" y="437" width="3" height="13" fill="#fff"/>
<rect x="166" y="363" width="1" height="86" fill="#000"/>
<rect x="164" y="374" width="5" height="62" fill="#000"/>
<rect x="165" y="375" width="3" height="60" fill="#fff"/>
<rect x="174" y="363" width="1" height="108" fill="#000"/>
<rect x="172" y="372" width="5" height="90" fill="#000"/>
<rect x="182" y="444" width="1" height="125" fill="#000"/>
<rect x="180" y="460" width="5" height="70" fill="#000"/>
<rect x="190" y="480" width="1" height="59" fill="#000"/>
<rect x="188" y="487" width="5" height="45" fill="#000"/>
<rect x="189" y="488" width="3" height="43" fill="#fff"/>
<rect x="198" y="461" width="1" height="38" fill="#000"/>
<rect x="196" y="474" width="5" height="15" fill="#000"/>
<rect x="197" y="475" width="3" height="13" fill="#fff"/>
<rect x="206" y="462" width="1" height="28" fill="#000"/>
<rect x="204" y="463" width="5" height="8" fill="#000"/>
<rect x="205" y="464" width="3" height="6" fill="#fff"/>
<rect x="214" y="451" width="1" height="61" fill="#000"/>
<rect x="212" y="461" width="5" height="12" fill="#000"/>
<rect x="222" y="414" width="1" height="127" fill="#000"/>
<rect x="220" y="431" width="5" height="43" fill="#000"/>
<rect x="221" y="432" width="3" height="41" fill="#fff"/>
<rect x="230" y="390" width="1" height="47" fill="#000"/>
<rect x="228" y="390" width="5" height="40" fill="#000"/>
<rect x="229" y="391" width="3" height="38" fill="#fff"/>
<rect x="238" y="370" width="1" height="30" fill="#000"/>
<rect x="236" y="377" width="5" height="11" fill="#000"/>
<rect x="237" y="378" width="3" height="9" fill="#fff"/>
<rect x="246" y="366" width="1" height="12" fill="#000"/>
<rect x="244" y="375" width="5" height="3" fill="#000"/>
<rect x="245" y="376" width="3" height="1" fill="#fff"/>
<rect x="254" y="376" width="1" height="25" fill="#000"/>
<rect x="252" y="378" width="5" height="22" fill="#000"/>
<rect x="262" y="370" width="1" height="45" fill="#000"/>
<rect x="260" y="397" width="5" height="4" fill="#000"/>
<rect x="270" y="338" width="1" height="65" fill="#000"/>
<rect x="268" y="349" width="5" height="53" fill="#000"/>
<rect x="269" y="350" width="3" height="51" fill="#fff"/>
<rect x="278" y="342" width="1" height="44" fill="#000"/>
<rect x="276" y="351" width="5" height="25" fill="#000"/>
<rect x="286" y="374" width="1" height="47" fill="#000"/>
<rect x="284" y="376" width="5" height="20" fill="#000"/>
<rect x="294" y="383" width="1" height="35" fill="#000"/>
<rect x="292" y="386" width="5" height="9" fill="#000"/>
<rect x="293" y="387" width="3" height="7" fill="#fff"/>
<rect x="302" y="376" width="1" height="12" fill="#000"/>
<rect x="300" y="381" width="5" height="7" fill="#000"/>
<rect x="301" y="382" width="3" height="5" fill="#fff"/>
<rect x="310" y="351" width="1" height="41" fill="#000"/>
<rect x="308" y="375" width="5" height="4" fill="#000"/>
<rect x="309" y="376" width="3" height="2" fill="#fff"/>
<rect x="318" y="340" width="1" height="37" fill="#000"/>
<rect x="316" y="361" width="5" height="12" fill="#000"/>
<rect x="317" y="362" width="3" height="10" fill="#fff"/>
<rect x="326" y="293" width="1" height="85" fill="#000"/>
<rect x="324" y="300" width="5" height="64" fill="#000"/>
<rect x="325" y="301" width="3" height="62" fill="#fff"/>
<rect x="334" y="289" width="1" height="24" fill="#000"/>
<rect x="332" y="296" width="5" height="3" fill="#000"/>
<rect x="333" y="297" width="3" height="1" fill="#fff"/>
<rect x="342" y="293" width="1" height="14" fill="#000"/>
<rect x="340" y="294" width="5" height="11" fill="#000"/>
<rect x="350" y="291" width="1" height="12" fill="#000"/>
<rect x="348" y="294" width="5" height="9" fill="#000"/>
<rect x="349" y="295" width="3" height="7" fill="#fff"/>
<rect x="358" y="296" width="1" height="75" fill="#000"/>
<rect x="356" y="298" width="5" height="45" fill="#000"/>
<rect x="366" y="325" width="1" height="39" fill="#000"/>
<rect x="364" y="344" width="5" height="6" fill="#000"/>
<rect x="374" y="336" width="1" height="22" fill="#000"/>
<rect x="372" y="336" width="5" height="11" fill="#000"/>
<rect x="373" y="337" width="3" height="9" fill="#fff"/>
<rect x="382" y="332" width="1" height="28" fill="#000"/>
<rect x="380" y="334" width="5" height="22" fill="#000"/>
<rect x="390" y="352" width="1" height="17" fill="#000"/>
<rect x="388" y="356" width="5" height="7" fill="#000"/>
<rect x="398" y="363" width="1" height="14" fill="#000"/>
<rect x="396" y="370" width="5" height="7" fill="#000"/>
<rect x="397" y="371" width="3" height="5" fill="#fff"/>
<rect x="406" y="336" width="1" height="50" fill="#000"/>
<rect x="404" y="346" width="5" height="24" fill="#000"/>
<rect x="405" y="347" width="3" height="22" fill="#fff"/>
<rect x="414" y="333" width="1" height="95" fill="#000"/>
<rect x="412" y="349" width="5" height="58" fill="#000"/>
<rect x="422" y="361" width="1" height="82" fill="#000"/>
<rect x="420" y="391" width="5" height="17" fill="#000"/>
<rect x="421" y="392" width="3" height="15" fill="#fff"/>
<rect x="430" y="349" width="1" height="51" fill="#000"/>
<rect x="428" y="363" width="5" height="28" fill="#000"/>
<rect x="429" y="364" width="3" height="26" fill="#fff"/>
<rect x="438" y="353" width="1" height="23" fill="#000"/>
<rect x="436" y="362" width="5" height="10" fill="#000"/>
<rect x="446" y="357" width="1" height="22" fill="#000"/>
<rect x="444" y="357" width="5" height="20" fill="#000"/>
<rect x="454" y="368" width="1" height="45" fill="#000"/>
<rect x="452" y="375" width="5" height="21" fill="#000"/>
<rect x="462" y="366" width="1" height="52" fill="#000"/>
<rect x="460" y="393" width="5" height="5" fill="#000"/>
<rect x="470" y="372" width="1" height="29" fill="#000"/>
<rect x="468" y="372" width="5" height="29" fill="#000"/>
<rect x="469" y="373" width="3" height="27" fill="#fff"/>
<rect x="478" y="363" width="1" height="16" fill="#000"/>
<rect x="476" y="371" width="5" height="1" fill="#000"/>
<rect x="486" y="355" width="1" height="17" fill="#000"/>
<rect x="484" y="365" width="5" height="3" fill="#000"/>
<rect x="485" y="366" width="3" height="1" fill="#fff"/>
<rect x="494" y="355" width="1" height="12" fill="#000"/>
<rect x="492" y="359" width="5" height="8" fill="#000"/>
<rect x="502" y="351" width="1" height="50" fill="#000"/>
<rect x="500" y="361" width="5" height="3" fill="#000"/>
<rect x="501" y="362" width="3" height="1" fill="#fff"/>
<rect x="510" y="336" width="1" height="39" fill="#000"/>
<rect x="508" y="357" width="5" height="7" fill="#000"/>
<rect x="509" y="358" width="3" height="5" fill="#fff"/>
<rect x="518" y="289" width="1" height="90" fill="#000"/>
<rect x="516" y="293" width="5" height="66" fill="#000"/>
<rect x="517" y="294" width="3" height="64" fill="#fff"/>
<rect x="526" y="224" width="1" height="75" fill="#000"/>
<rect x="524" y="266" width="5" height="27" fill="#000"/>
<rect x="525" y="267" width="3" height="25" fill="#fff"/>
<rect x="534" y="223" width="1" height="65" fill="#000"/>
<rect x="532" y="227" width="5" height="41" fill="#000"/>
<rect x="533" y="228" width="3" height="39" fill="#fff"/>
<rect x="542" y="123" width="1" height="69" fill="#000"/>
<rect x="540" y="153" width="5" height="11" fill="#000"/>
<rect x="541" y="154" width="3" height="9" fill="#fff"/>
<rect x="550" y="91" width="1" height="101" fill="#000"/>
<rect x="548" y="134" width="5" height="22" fill="#000"/>
<rect x="549" y="135" width="3" height="20" fill="#fff"/>
<rect x="558" y="85" width="1" height="53" fill="#000"/>
<rect x="556" y="93" width="5" height="41" fill="#000"/>
<rect x="557" y="94" width="3" height="39" fill="#fff"/>
<rect x="566" y="91" width="1" height="125" fill="#000"/>
<rect x="564" y="92" width="5" height="88" fill="#000"/>
<rect x="574" y="102" width="1" height="102" fill="#000"/>
<rect x="572" y="159" width="5" height="23" fill="#000"/>
<rect x="573" y="160" width="3" height="21" fill="#fff"/>
<rect x="582" y="155" width="1" height="12" fill="#000"/>
<rect x="580" y="160" width="5" height="3" fill="#000"/>
<rect x="581" y="161" width="3" height="1" fill="#fff"/>
<rect x="590" y="108" width="1" height="46" fill="#000"/>
<rect x="588" y="125" width="5" height="23" fill="#000"/>
<rect x="598" y="113" width="1" height="37" fill="#000"/>
<rect x="596" y="121" width="5" height="25" fill="#000"/>
<rect x="597" y="122" width="3" height="23" fill="#fff"/>
<rect x="606" y="110" width="1" height="42" fill="#000"/>
<rect x="604" y="119" width="5" height="5" fill="#000"/>
<rect x="614" y="96" width="1" height="28" fill="#000"/>
<rect x="612" y="104" width="5" height="18" fill="#000"/>
<rect x="613" y="105" width="3" height="16" fill="#fff"/>
<rect x="622" y="55" width="1" height="54" fill="#000"/>
<rect x="620" y="64" width="5" height="40" fill="#000"/>
<rect x="621" y="65" width="3" height="38" fill="#fff"/>
<rect x="630" y="62" width="1" height="15" fill="#000"/>
<rect x="628" y="62" width="5" height="13" fill="#000"/>
<rect x="638" y="72" width="1" height="16" fill="#000"/>
<rect x="636" y="73" width="5" height="15" fill="#000"/>
<rect x="646" y="85" width="1" height="41" fill="#000"/>
<rect x="644" y="85" width="5" height="14" fill="#000"/>
<rect x="654" y="89" width="1" height="44" fill="#000"/>
<rect x="652" y="100" width="5" height="24" fill="#000"/>
<rect x="662" y="91" width="1" height="42" fill="#000"/>
<rect x="660" y="108" width="5" height="15" fill="#000"/>
<rect x="661" y="109" width="3" height="13" fill="#fff"/>
<rect x="670" y="98" width="1" height="18" fill="#000"/>
<rect x="668" y="102" width="5" height="8" fill="#000"/>
<rect x="669" y="103" width="3" height="6" fill="#fff"/>
<rect x="678" y="93" width="1" height="16" fill="#000"/>
<rect x="676" y="98" width="5" height="3" fill="#000"/>
<rect x="677" y="99" width="3" height="1" fill="#fff"/>
<rect x="686" y="104" width="1" height="16" fill="#000"/>
<rect x="684" y="106" width="5" height="10" fill="#000"/>
<rect x="694" y="108" width="1" height="42" fill="#000"/>
<rect x="692" y="113" width="5" height="33" fill="#000"/>
<rect x="702" y="138" width="1" height="48" fill="#000"/>
<rect x="700" y="142" width="5" height="27" fill="#000"/>
<rect x="710" y="151" width="1" height="25" fill="#000"/>
<rect x="708" y="156" width="5" height="12" fill="#000"/>
<rect x="709" y="157" width="3" height="10" fill="#fff"/>
<rect x="718" y="151" width="1" height="22" fill="#000"/>
<rect x="716" y="157" width="5" height="1" fill="#000"/>
<rect x="726" y="156" width="1" height="9" fill="#000"/>
<rect x="724" y="159" width="5" height="5" fill="#000"/>
<rect x="734" y="159" width="1" height="16" fill="#000"/>
<rect x="732" y="159" width="5" height="14" fill="#000"/>
<rect x="742" y="153" width="1" height="54" fill="#000"/>
<rect x="740" y="174" width="5" height="12" fill="#000"/>
<rect x="750" y="168" width="1" height="26" fill="#000"/>
<rect x="748" y="185" width="5" height="3" fill="#000"/>
<rect x="749" y="186" width="3" height="1" fill="#fff"/>
<rect x="758" y="182" width="1" height="29" fill="#000"/>
<rect x="756" y="184" width="5" height="21" fill="#000"/>
<rect x="766" y="189" width="1" height="27" fill="#000"/>
<rect x="764" y="193" width="5" height="13" fill="#000"/>
<rect x="765" y="194" width="3" height="11" fill="#fff"/>
<rect x="774" y="187" width="1" height="11" fill="#000"/>
<rect x="772" y="191" width="5" height="6" fill="#000"/>
<rect x="782" y="168" width="1" height="18" fill="#000"/>
<rect x="780" y="171" width="5" height="12" fill="#000"/>
<rect x="781" y="172" width="3" height="10" fill="#fff"/>
<rect x="790" y="168" width="1" height="71" fill="#000"/>
<rect x="788" y="174" width="5" height="10" fill="#000"/>
<rect x="798" y="181" width="1" height="47" fill="#000"/>
<rect x="796" y="184" width="5" height="10" fill="#000"/>
<rect x="806" y="179" width="1" height="24" fill="#000"/>
<rect x="804" y="187" width="5" height="10" fill="#000"/>
<rect x="805" y="188" width="3" height="8" fill="#fff"/>
<rect x="814" y="170" width="1" height="24" fill="#000"/>
<rect x="812" y="175" width="5" height="11" fill="#000"/>
<rect x="813" y="176" width="3" height="9" fill="#fff"/>
<rect x="822" y="174" width="1" height="14" fill="#000"/>
<rect x="820" y="175" width="5" height="13" fill="#000"/>
<rect x="830" y="159" width="1" height="18" fill="#000"/>
<rect x="828" y="168" width="5" height="1" fill="#000"/>
<rect x="838" y="166" width="1" height="39" fill="#000"/>
<rect x="836" y="170" width="5" height="29" fill="#000"/>
<rect x="846" y="193" width="1" height="25" fill="#000"/>
<rect x="844" y="196" width="5" height="9" fill="#000"/>
<rect x="854" y="191" width="1" height="18" fill="#000"/>
<rect x="852" y="206" width="5" height="1" fill="#000"/>
<rect x="862" y="189" width="1" height="20" fill="#000"/>
<rect x="860" y="191" width="5" height="14" fill="#000"/>
<rect x="861" y="192" width="3" height="12" fill="#fff"/>
<rect x="870" y="189" width="1" height="14" fill="#000"/>
<rect x="868" y="189" width="5" height="10" fill="#000"/>
<rect x="878" y="185" width="1" height="20" fill="#000"/>
<rect x="876" y="189" width="5" height="8" fill="#000"/>
<rect x="886" y="193" width="1" height="23" fill="#000"/>
<rect x="884" y="193" width="5" height="18" fill="#000"/>
<rect x="894" y="196" width="1" height="15" fill="#000"/>
<rect x="892" y="200" width="5" height="9" fill="#000"/>
<rect x="893" y="201" width="3" height="7" fill="#fff"/>
<rect x="902" y="196" width="1" height="13" fill="#000"/>
<rect x="900" y="202" width="5" height="7" fill="#000"/>
<rect x="910" y="201" width="1" height="13" fill="#000"/>
<rect x="908" y="202" width="5" height="6" fill="#000"/>
<rect x="909" y="203" width="3" height="4" fill="#fff"/>
<rect x="918" y="199" width="1" height="6" fill="#000"/>
<rect x="916" y="199" width="5" height="1" fill="#000"/>
<rect x="926" y="194" width="1" height="13" fill="#000"/>
<rect x="924" y="198" width="5" height="7" fill="#000"/>
<rect x="934" y="202" width="1" height="12" fill="#000"/>
<rect x="932" y="202" width="5" height="12" fill="#000"/>
<rect x="942" y="208" width="1" height="29" fill="#000"/>
<rect x="940" y="210" width="5" height="22" fill="#000"/>
<rect x="950" y="230" width="1" height="4" fill="#000"/>
<rect x="948" y="231" width="5" height="1" fill="#000"/>
<rect x="958" y="227" width="1" height="4" fill="#000"/>
<rect x="956" y="228" width="5" height="1" fill="#000"/>
<rect x="966" y="227" width="1" height="7" fill="#000"/>
<rect x="964" y="230" width="5" height="4" fill="#000"/>
<rect x="974" y="215" width="1" height="16" fill="#000"/>
<rect x="972" y="218" width="5" height="8" fill="#000"/>
<rect x="982" y="157" width="1" height="69" fill="#000"/>
<rect x="980" y="173" width="5" height="49" fill="#000"/>
<rect x="981" y="174" width="3" height="47" fill="#fff"/>
<rect x="990" y="164" width="1" height="16" fill="#000"/>
<rect x="988" y="170" width="5" height="4" fill="#000"/>
<rect x="989" y="171" width="3" height="2" fill="#fff"/>
<rect x="998" y="145" width="1" height="24" fill="#000"/>
<rect x="996" y="154" width="5" height="15" fill="#000"/>
<rect x="997" y="155" width="3" height="13" fill="#fff"/>
<rect x="1006" y="138" width="1" height="20" fill="#000"/>
<rect x="1004" y="140" width="5" height="13" fill="#000"/>
<rect x="1005" y="141" width="3" height="11" fill="#fff"/>
<rect x="1014" y="140" width="1" height="12" fill="#000"/>
<rect x="1012" y="141" width="5" height="5" fill="#000"/>
<rect x="1022" y="131" width="1" height="6" fill="#000"/>
<rect x="1020" y="133" width="5" height="3" fill="#000"/>
<rect x="1030" y="132" width="1" height="18" fill="#000"/>
<rect x="1028" y="135" width="5" height="15" fill="#000"/>
<rect x="1038" y="147" width="1" height="33" fill="#000"/>
<rect x="1036" y="148" width="5" height="15" fill="#000"/>
<rect x="1046" y="157" width="1" height="34" fill="#000"/>
<rect x="1044" y="164" width="5" height="27" fill="#000"/>
<rect x="1054" y="174" width="1" height="30" fill="#000"/>
<rect x="1052" y="191" width="5" height="1" fill="#000"/>
<rect x="1062" y="191" width="1" height="10" fill="#000"/>
<rect x="1060" y="193" width="5" height="6" fill="#000"/>
<rect x="1070" y="193" width="1" height="18" fill="#000"/>
<rect x="1068" y="193" width="5" height="14" fill="#000"/>
<rect x="1078" y="202" width="1" height="58" fill="#000"/>
<rect x="1076" y="204" width="5" height="39" fill="#000"/>
<rect x="1086" y="238" width="1" height="24" fill="#000"/>
<rect x="1084" y="245" width="5" height="9" fill="#000"/>
<rect x="1094" y="249" width="1" height="69" fill="#000"/>
<rect x="1092" y="254" width="5" height="50" fill="#000"/>
<rect x="1102" y="303" width="1" height="51" fill="#000"/>
<rect x="1100" y="306" width="5" height="27" fill="#000"/>
<rect x="1110" y="325" width="1" height="34" fill="#000"/>
<rect x="1108" y="331" width="5" height="27" fill="#000"/>
<rect x="1118" y="345" width="1" height="5" fill="#000"/>
<rect x="1116" y="347" width="5" height="1" fill="#000"/>
<rect x="1126" y="349" width="1" height="19" fill="#000"/>
<rect x="1124" y="349" width="5" height="19" fill="#000"/>
<rect x="1134" y="357" width="1" height="33" fill="#000"/>
<rect x="1132" y="366" width="5" height="9" fill="#000"/>
<rect x="1142" y="353" width="1" height="47" fill="#000"/>
<rect x="1140" y="362" width="5" height="14" fill="#000"/>
<rect x="1141" y="363" width="3" height="12" fill="#fff"/>
<rect x="1150" y="344" width="1" height="30" fill="#000"/>
<rect x="1148" y="354" width="5" height="9" fill="#000"/>
<rect x="1149" y="355" width="3" height="7" fill="#fff"/>
<rect x="1158" y="338" width="1" height="18" fill="#000"/>
<rect x="1156" y="339" width="5" height="15" fill="#000"/>
<rect x="1157" y="340" width="3" height="13" fill="#fff"/>
<rect x="1166" y="302" width="1" height="18" fill="#000"/>
<rect x="1164" y="308" width="5" height="1" fill="#000"/>
<rect x="1174" y="255" width="1" height="69" fill="#000"/>
<rect x="1172" y="258" width="5" height="44" fill="#000"/>
<rect x="1173" y="259" width="3" height="42" fill="#fff"/>
<rect x="1182" y="198" width="1" height="68" fill="#000"/>
<rect x="1180" y="206" width="5" height="54" fill="#000"/>
<rect x="1181" y="207" width="3" height="52" fill="#fff"/>
<rect x="1190" y="203" width="1" height="32" fill="#000"/>
<rect x="1188" y="204" width="5" height="29" fill="#000"/>
<rect x="1198" y="226" width="1" height="76" fill="#000"/>
<rect x="1196" y="233" width="5" height="32" fill="#000"/>
<rect x="1206" y="251" width="1" height="22" fill="#000"/>
<rect x="1204" y="262" width="5" height="5" fill="#000"/>
<rect x="1214" y="198" width="1" height="37" fill="#000"/>
<rect x="1212" y="221" width="5" height="12" fill="#000"/>
<rect x="1222" y="234" width="1" height="188" fill="#000"/>
<rect x="1220" y="234" width="5" height="139" fill="#000"/>
<rect x="1230" y="349" width="1" height="107" fill="#000"/>
<rect x="1228" y="370" width="5" height="79" fill="#000"/>
<rect x="1238" y="368" width="1" height="101" fill="#000"/>
<rect x="1236" y="380" width="5" height="66" fill="#000"/>
<rect x="1237" y="381" width="3" height="64" fill="#fff"/>
<rect x="1246" y="363" width="1" height="52" fill="#000"/>
<rect x="1244" y="376" width="5" height="15" fill="#000"/>
<rect x="1254" y="384" width="1" height="17" fill="#000"/>
<rect x="1252" y="385" width="5" height="5" fill="#000"/>
<rect x="1253" y="386" width="3" height="3" fill="#fff"/>
<rect x="1262" y="419" width="1" height="55" fill="#000"/>
<rect x="1260" y="421" width="5" height="37" fill="#000"/>
<rect x="1261" y="422" width="3" height="35" fill="#fff"/>
<rect x="1270" y="393" width="1" height="72" fill="#000"/>
<rect x="1268" y="419" width="5" height="36" fill="#000"/>
<rect x="1278" y="436" width="1" height="79" fill="#000"/>
<rect x="1276" y="457" width="5" height="29" fill="#000"/>
<rect x="1286" y="446" width="1" height="46" fill="#000"/>
<rect x="1284" y="455" width="5" height="33" fill="#000"/>
<rect x="1285" y="456" width="3" height="31" fill="#fff"/>
<rect x="1294" y="400" width="1" height="62" fill="#000"/>
<rect x="1292" y="403" width="5" height="53" fill="#000"/>
<rect x="1293" y="404" width="3" height="51" fill="#fff"/>
<rect x="1302" y="394" width="1" height="13" fill="#000"/>
<rect x="1300" y="395" width="5" height="8" fill="#000"/>
<rect x="1301" y="396" width="3" height="6" fill="#fff"/>
<rect x="1310" y="397" width="1" height="16" fill="#000"/>
<rect x="1308" y="397" width="5" height="10" fill="#000"/>
<rect x="1318" y="295" width="1" height="120" fill="#000"/>
<rect x="1316" y="325" width="5" height="83" fill="#000"/>
<rect x="1317" y="326" width="3" height="81" fill="#fff"/>
<rect x="1326" y="301" width="1" height="55" fill="#000"/>
<rect x="1324" y="323" width="5" height="5" fill="#000"/>
<rect x="1334" y="323" width="1" height="67" fill="#000"/>
<rect x="1332" y="328" width="5" height="50" fill="#000"/>
<rect x="1342" y="332" width="1" height="45" fill="#000"/>
<rect x="1340" y="366" width="5" height="11" fill="#000"/>
<rect x="1341" y="367" width="3" height="9" fill="#fff"/>
<rect x="1350" y="359" width="1" height="16" fill="#000"/>
<rect x="1348" y="363" width="5" height="1" fill="#000"/>
<rect x="1611" y="410" width="6" height="6" fill="#0000ff"/>
<rect x="1613" y="412" width="2" height="2" fill="#fff"/>
<rect x="-3" y="410" width="6" height="6" fill="#0000ff"/>
<rect x="-1" y="412" width="2" height="2" fill="#fff"/>
<rect x="1611" y="440" width="6" height="6" fill="#0000ff"/>
<rect x="1613" y="442" width="2" height="2" fill="#fff"/>
<rect x="-3" y="440" width="6" height="6" fill="#0000ff"/>
<rect x="-1" y="442" width="2" height="2" fill="#fff"/>
<line x1="1022.2" y1="133.8" x2="1141.3" y2="411" stroke="#ff0000" stroke-width="3"/>
<line x1="1141.3" y1="411" x2="1203.5" y2="199" stroke="#ff0000" stroke-width="3"/>
<line x1="1203.5" y1="199" x2="1276.7" y2="505" stroke="#ff0000" stroke-width="3"/>
<line x1="1276.7" y1="505" x2="1327.5" y2="289" stroke="#ff0000" stroke-width="3"/>
<polygon points="1141.35,411.4 1132.8,401.4 1134.6,399.8 1140.5,396.9 1145.5,398.2" fill="#ff0000"/>
<polygon points="1203.5,198.7 1196,208 1197.5,210 1202,209.5 1207.3,208" fill="#ff0000"/>
<polygon points="1276.7,505.3 1268.9,496 1270.6,493.9 1275.6,492 1280,492.7" fill="#ff0000"/>
<polygon points="1327.5,288.6 1330.5,295.5 1332,301 1334.5,300.8 1336.3,304 1336,313 1334.6,314.4 1326.2,304.8 1324.5,300.5 1321.5,300.3 1320.1,298.2" fill="#ff0000"/>
<rect x="1134" y="357" width="1" height="33" fill="#000"/>
<rect x="1132" y="366" width="5" height="9" fill="#000"/>
<rect x="1142" y="353" width="1" height="47" fill="#000"/>
<rect x="1140" y="362" width="5" height="14" fill="#000"/>
<rect x="1141" y="363" width="3" height="12" fill="#fff"/>
<rect x="1190" y="203" width="1" height="32" fill="#000"/>
<rect x="1188" y="204" width="5" height="29" fill="#000"/>
<rect x="1198" y="226" width="1" height="76" fill="#000"/>
<rect x="1196" y="233" width="5" height="32" fill="#000"/>
<rect x="1214" y="198" width="1" height="37" fill="#000"/>
<rect x="1212" y="221" width="5" height="12" fill="#000"/>
<rect x="1222" y="234" width="1" height="188" fill="#000"/>
<rect x="1220" y="234" width="5" height="139" fill="#000"/>
<rect x="1318" y="295" width="1" height="30" fill="#000"/>
<rect x="1326" y="301" width="1" height="55" fill="#000"/>
<rect x="1324" y="323" width="5" height="5" fill="#000"/>
<rect x="1219" y="377" width="169" height="7" fill="#00ff00"/>
<rect x="1455" y="381" width="8" height="1" fill="#ff0000"/>
<rect x="1462" y="379" width="4" height="4" fill="#ff0000"/>
<rect x="1463" y="380" width="2" height="2" fill="#fff"/>
<rect x="1465" y="369" width="74" height="25" fill="#ff0000"/>
<rect x="1466" y="370" width="72" height="23" fill="#fff"/>
<text x="1466.4" y="390" font-size="22.3" fill="#ff0000" stroke="#ff0000" stroke-width="0.35" textLength="70.4" lengthAdjust="spacingAndGlyphs" shape-rendering="geometricPrecision">23331.6</text>
<text x="1407.1" y="468.6" font-family="'Liberation Serif','Noto Serif CJK SC','Noto Sans CJK SC',serif" font-weight="700" font-size="30" fill="#0a3a0a" textLength="161.5" lengthAdjust="spacing">多空转折点</text>
<text x="1406.1" y="467.6" font-family="'Liberation Serif','Noto Serif CJK SC','Noto Sans CJK SC',serif" font-weight="700" font-size="30" fill="#00ff00" textLength="161.5" lengthAdjust="spacing">多空转折点</text>
</g>
<rect x="1618" y="50" width="2" height="1" fill="#000"/>
<text x="1623" y="54" font-size="10" stroke="#000" stroke-width="0.2" fill="#000" textLength="33" lengthAdjust="spacingAndGlyphs">24110.0</text>
<rect x="1618" y="83" width="2" height="1" fill="#000"/>
<text x="1623" y="87" font-size="10" stroke="#000" stroke-width="0.2" fill="#000" textLength="33" lengthAdjust="spacingAndGlyphs">24032.0</text>
<rect x="1618" y="116" width="2" height="1" fill="#000"/>
<text x="1623" y="120" font-size="10" stroke="#000" stroke-width="0.2" fill="#000" textLength="33" lengthAdjust="spacingAndGlyphs">23954.0</text>
<rect x="1618" y="149" width="2" height="1" fill="#000"/>
<text x="1623" y="153" font-size="10" stroke="#000" stroke-width="0.2" fill="#000" textLength="33" lengthAdjust="spacingAndGlyphs">23876.0</text>
<rect x="1618" y="182" width="2" height="1" fill="#000"/>
<text x="1623" y="186" font-size="10" stroke="#000" stroke-width="0.2" fill="#000" textLength="33" lengthAdjust="spacingAndGlyphs">23800.0</text>
<rect x="1618" y="215" width="2" height="1" fill="#000"/>
<text x="1623" y="219" font-size="10" stroke="#000" stroke-width="0.2" fill="#000" textLength="33" lengthAdjust="spacingAndGlyphs">23722.0</text>
<rect x="1618" y="248" width="2" height="1" fill="#000"/>
<text x="1623" y="252" font-size="10" stroke="#000" stroke-width="0.2" fill="#000" textLength="33" lengthAdjust="spacingAndGlyphs">23644.0</text>
<rect x="1618" y="281" width="2" height="1" fill="#000"/>
<text x="1623" y="285" font-size="10" stroke="#000" stroke-width="0.2" fill="#000" textLength="33" lengthAdjust="spacingAndGlyphs">23566.0</text>
<rect x="1618" y="314" width="2" height="1" fill="#000"/>
<text x="1623" y="318" font-size="10" stroke="#000" stroke-width="0.2" fill="#000" textLength="33" lengthAdjust="spacingAndGlyphs">23488.0</text>
<rect x="1618" y="347" width="2" height="1" fill="#000"/>
<text x="1623" y="351" font-size="10" stroke="#000" stroke-width="0.2" fill="#000" textLength="33" lengthAdjust="spacingAndGlyphs">23412.0</text>
<rect x="1618" y="446" width="2" height="1" fill="#000"/>
<text x="1623" y="450" font-size="10" stroke="#000" stroke-width="0.2" fill="#000" textLength="33" lengthAdjust="spacingAndGlyphs">23178.0</text>
<rect x="1618" y="479" width="2" height="1" fill="#000"/>
<text x="1623" y="483" font-size="10" stroke="#000" stroke-width="0.2" fill="#000" textLength="33" lengthAdjust="spacingAndGlyphs">23100.0</text>
<rect x="1618" y="512" width="2" height="1" fill="#000"/>
<text x="1623" y="516" font-size="10" stroke="#000" stroke-width="0.2" fill="#000" textLength="33" lengthAdjust="spacingAndGlyphs">23022.0</text>
<rect x="1618" y="545" width="2" height="1" fill="#000"/>
<text x="1623" y="549" font-size="10" stroke="#000" stroke-width="0.2" fill="#000" textLength="33" lengthAdjust="spacingAndGlyphs">22946.0</text>
<rect x="1618" y="578" width="2" height="1" fill="#000"/>
<text x="1623" y="582" font-size="10" stroke="#000" stroke-width="0.2" fill="#000" textLength="33" lengthAdjust="spacingAndGlyphs">22868.0</text>
<rect x="1619" y="297" width="41" height="11" fill="#ff0000"/><text x="1623" y="306" font-size="10" stroke="#fff" stroke-width="0.2" fill="#fff" textLength="33" lengthAdjust="spacingAndGlyphs">23514.7</text>
<rect x="1619" y="329" width="41" height="11" fill="#ff0000"/><text x="1623" y="338" font-size="10" stroke="#fff" stroke-width="0.2" fill="#fff" textLength="33" lengthAdjust="spacingAndGlyphs">23439.6</text>
<rect x="1619" y="358" width="41" height="11" fill="#000"/><text x="1623" y="367" font-size="10" stroke="#fff" stroke-width="0.2" fill="#fff" textLength="33" lengthAdjust="spacingAndGlyphs">23372.5</text>
<rect x="1619" y="375" width="41" height="11" fill="#32cd32"/><text x="1623" y="384" font-size="10" stroke="#fff" stroke-width="0.2" fill="#fff" textLength="33" lengthAdjust="spacingAndGlyphs">23331.6</text>
<rect x="1619" y="407" width="41" height="11" fill="#0000ff"/><text x="1623" y="416" font-size="10" stroke="#fff" stroke-width="0.2" fill="#fff" textLength="33" lengthAdjust="spacingAndGlyphs">23256.4</text>
<rect x="1619" y="437" width="41" height="11" fill="#0000ff"/><text x="1623" y="446" font-size="10" stroke="#fff" stroke-width="0.2" fill="#fff" textLength="33" lengthAdjust="spacingAndGlyphs">23186.0</text>
<rect x="6" y="634" width="1" height="46" fill="#c0c0c0"/>
<rect x="14" y="638" width="1" height="42" fill="#c0c0c0"/>
<rect x="22" y="642" width="1" height="38" fill="#c0c0c0"/>
<rect x="30" y="646" width="1" height="34" fill="#c0c0c0"/>
<rect x="38" y="648" width="1" height="32" fill="#c0c0c0"/>
<rect x="46" y="649" width="1" height="31" fill="#c0c0c0"/>
<rect x="54" y="651" width="1" height="29" fill="#c0c0c0"/>
<rect x="62" y="653" width="1" height="27" fill="#c0c0c0"/>
<rect x="70" y="659" width="1" height="21" fill="#c0c0c0"/>
<rect x="78" y="664" width="1" height="16" fill="#c0c0c0"/>
<rect x="86" y="669" width="1" height="11" fill="#c0c0c0"/>
<rect x="94" y="673" width="1" height="7" fill="#c0c0c0"/>
<rect x="102" y="677" width="1" height="3" fill="#c0c0c0"/>
<rect x="110" y="678" width="1" height="2" fill="#c0c0c0"/>
<rect x="118" y="672" width="1" height="8" fill="#c0c0c0"/>
<rect x="126" y="666" width="1" height="14" fill="#c0c0c0"/>
<rect x="134" y="671" width="1" height="9" fill="#c0c0c0"/>
<rect x="142" y="679" width="1" height="1" fill="#c0c0c0"/>
<rect x="150" y="679" width="1" height="10" fill="#c0c0c0"/>
<rect x="158" y="679" width="1" height="15" fill="#c0c0c0"/>
<rect x="166" y="679" width="1" height="13" fill="#c0c0c0"/>
<rect x="174" y="679" width="1" height="21" fill="#c0c0c0"/>
<rect x="182" y="679" width="1" height="33" fill="#c0c0c0"/>
<rect x="190" y="679" width="1" height="37" fill="#c0c0c0"/>
<rect x="198" y="679" width="1" height="40" fill="#c0c0c0"/>
<rect x="206" y="679" width="1" height="40" fill="#c0c0c0"/>
<rect x="214" y="679" width="1" height="41" fill="#c0c0c0"/>
<rect x="222" y="679" width="1" height="35" fill="#c0c0c0"/>
<rect x="230" y="679" width="1" height="29" fill="#c0c0c0"/>
<rect x="238" y="679" width="1" height="21" fill="#c0c0c0"/>
<rect x="246" y="679" width="1" height="13" fill="#c0c0c0"/>
<rect x="254" y="679" width="1" height="11" fill="#c0c0c0"/>
<rect x="262" y="679" width="1" height="9" fill="#c0c0c0"/>
<rect x="270" y="679" width="1" height="1" fill="#c0c0c0"/>
<rect x="278" y="679" width="1" height="1" fill="#c0c0c0"/>
<rect x="286" y="679" width="1" height="1" fill="#c0c0c0"/>
<rect x="294" y="678" width="1" height="2" fill="#c0c0c0"/>
<rect x="302" y="677" width="1" height="3" fill="#c0c0c0"/>
<rect x="310" y="675" width="1" height="5" fill="#c0c0c0"/>
<rect x="318" y="672" width="1" height="8" fill="#c0c0c0"/>
<rect x="326" y="664" width="1" height="16" fill="#c0c0c0"/>
<rect x="334" y="658" width="1" height="22" fill="#c0c0c0"/>
<rect x="342" y="654" width="1" height="26" fill="#c0c0c0"/>
<rect x="350" y="650" width="1" height="30" fill="#c0c0c0"/>
<rect x="358" y="652" width="1" height="28" fill="#c0c0c0"/>
<rect x="366" y="655" width="1" height="25" fill="#c0c0c0"/>
<rect x="374" y="656" width="1" height="24" fill="#c0c0c0"/>
<rect x="382" y="659" width="1" height="21" fill="#c0c0c0"/>
<rect x="390" y="662" width="1" height="18" fill="#c0c0c0"/>
<rect x="398" y="666" width="1" height="14" fill="#c0c0c0"/>
<rect x="406" y="667" width="1" height="13" fill="#c0c0c0"/>
<rect x="414" y="673" width="1" height="7" fill="#c0c0c0"/>
<rect x="422" y="677" width="1" height="3" fill="#c0c0c0"/>
<rect x="430" y="677" width="1" height="3" fill="#c0c0c0"/>
<rect x="438" y="678" width="1" height="2" fill="#c0c0c0"/>
<rect x="454" y="679" width="1" height="1" fill="#c0c0c0"/>
<rect x="462" y="679" width="1" height="5" fill="#c0c0c0"/>
<rect x="470" y="679" width="1" height="4" fill="#c0c0c0"/>
<rect x="478" y="679" width="1" height="3" fill="#c0c0c0"/>
<rect x="486" y="679" width="1" height="2" fill="#c0c0c0"/>
<rect x="502" y="679" width="1" height="1" fill="#c0c0c0"/>
<rect x="518" y="672" width="1" height="8" fill="#c0c0c0"/>
<rect x="526" y="663" width="1" height="17" fill="#c0c0c0"/>
<rect x="534" y="653" width="1" height="27" fill="#c0c0c0"/>
<rect x="542" y="638" width="1" height="42" fill="#c0c0c0"/>
<rect x="550" y="624" width="1" height="56" fill="#c0c0c0"/>
<rect x="558" y="611" width="1" height="69" fill="#c0c0c0"/>
<rect x="566" y="609" width="1" height="71" fill="#c0c0c0"/>
<rect x="574" y="607" width="1" height="73" fill="#c0c0c0"/>
<rect x="582" y="606" width="1" height="74" fill="#c0c0c0"/>
<rect x="590" y="604" width="1" height="76" fill="#c0c0c0"/>
<rect x="598" y="602" width="1" height="78" fill="#c0c0c0"/>
<rect x="606" y="601" width="1" height="79" fill="#c0c0c0"/>
<rect x="614" y="599" width="1" height="81" fill="#c0c0c0"/>
<rect x="622" y="595" width="1" height="85" fill="#c0c0c0"/>
<rect x="630" y="593" width="1" height="87" fill="#c0c0c0"/>
<rect x="638" y="594" width="1" height="86" fill="#c0c0c0"/>
<rect x="646" y="598" width="1" height="82" fill="#c0c0c0"/>
<rect x="654" y="603" width="1" height="77" fill="#c0c0c0"/>
<rect x="662" y="607" width="1" height="73" fill="#c0c0c0"/>
<rect x="670" y="610" width="1" height="70" fill="#c0c0c0"/>
<rect x="678" y="613" width="1" height="67" fill="#c0c0c0"/>
<rect x="686" y="618" width="1" height="62" fill="#c0c0c0"/>
<rect x="694" y="625" width="1" height="55" fill="#c0c0c0"/>
<rect x="702" y="634" width="1" height="46" fill="#c0c0c0"/>
<rect x="710" y="640" width="1" height="40" fill="#c0c0c0"/>
<rect x="718" y="646" width="1" height="34" fill="#c0c0c0"/>
<rect x="726" y="651" width="1" height="29" fill="#c0c0c0"/>
<rect x="734" y="656" width="1" height="24" fill="#c0c0c0"/>
<rect x="742" y="662" width="1" height="18" fill="#c0c0c0"/>
<rect x="750" y="667" width="1" height="13" fill="#c0c0c0"/>
<rect x="758" y="673" width="1" height="7" fill="#c0c0c0"/>
<rect x="766" y="676" width="1" height="4" fill="#c0c0c0"/>
<rect x="790" y="679" width="1" height="1" fill="#c0c0c0"/>
<rect x="798" y="679" width="1" height="1" fill="#c0c0c0"/>
<rect x="806" y="679" width="1" height="3" fill="#c0c0c0"/>
<rect x="814" y="679" width="1" height="3" fill="#c0c0c0"/>
<rect x="822" y="679" width="1" height="3" fill="#c0c0c0"/>
<rect x="830" y="679" width="1" height="2" fill="#c0c0c0"/>
<rect x="838" y="679" width="1" height="3" fill="#c0c0c0"/>
<rect x="846" y="679" width="1" height="5" fill="#c0c0c0"/>
<rect x="854" y="679" width="1" height="7" fill="#c0c0c0"/>
<rect x="862" y="679" width="1" height="7" fill="#c0c0c0"/>
<rect x="870" y="679" width="1" height="7" fill="#c0c0c0"/>
<rect x="878" y="679" width="1" height="7" fill="#c0c0c0"/>
<rect x="886" y="679" width="1" height="9" fill="#c0c0c0"/>
<rect x="894" y="679" width="1" height="9" fill="#c0c0c0"/>
<rect x="902" y="679" width="1" height="9" fill="#c0c0c0"/>
<rect x="910" y="679" width="1" height="9" fill="#c0c0c0"/>
<rect x="918" y="679" width="1" height="8" fill="#c0c0c0"/>
<rect x="926" y="679" width="1" height="9" fill="#c0c0c0"/>
<rect x="934" y="679" width="1" height="9" fill="#c0c0c0"/>
<rect x="942" y="679" width="1" height="11" fill="#c0c0c0"/>
<rect x="950" y="679" width="1" height="13" fill="#c0c0c0"/>
<rect x="958" y="679" width="1" height="15" fill="#c0c0c0"/>
<rect x="966" y="679" width="1" height="16" fill="#c0c0c0"/>
<rect x="974" y="679" width="1" height="16" fill="#c0c0c0"/>
<rect x="982" y="679" width="1" height="10" fill="#c0c0c0"/>
<rect x="990" y="679" width="1" height="5" fill="#c0c0c0"/>
<rect x="998" y="679" width="1" height="1" fill="#c0c0c0"/>
<rect x="1006" y="674" width="1" height="6" fill="#c0c0c0"/>
<rect x="1014" y="670" width="1" height="10" fill="#c0c0c0"/>
<rect x="1022" y="667" width="1" height="13" fill="#c0c0c0"/>
<rect x="1030" y="665" width="1" height="15" fill="#c0c0c0"/>
<rect x="1038" y="665" width="1" height="15" fill="#c0c0c0"/>
<rect x="1046" y="669" width="1" height="11" fill="#c0c0c0"/>
<rect x="1054" y="672" width="1" height="8" fill="#c0c0c0"/>
<rect x="1062" y="674" width="1" height="6" fill="#c0c0c0"/>
<rect x="1070" y="678" width="1" height="2" fill="#c0c0c0"/>
<rect x="1078" y="679" width="1" height="3" fill="#c0c0c0"/>
<rect x="1086" y="679" width="1" height="10" fill="#c0c0c0"/>
<rect x="1094" y="679" width="1" height="19" fill="#c0c0c0"/>
<rect x="1102" y="679" width="1" height="29" fill="#c0c0c0"/>
<rect x="1110" y="679" width="1" height="40" fill="#c0c0c0"/>
<rect x="1118" y="679" width="1" height="46" fill="#c0c0c0"/>
<rect x="1126" y="679" width="1" height="53" fill="#c0c0c0"/>
<rect x="1134" y="679" width="1" height="58" fill="#c0c0c0"/>
<rect x="1142" y="679" width="1" height="60" fill="#c0c0c0"/>
<rect x="1150" y="679" width="1" height="60" fill="#c0c0c0"/>
<rect x="1158" y="679" width="1" height="58" fill="#c0c0c0"/>
<rect x="1166" y="679" width="1" height="53" fill="#c0c0c0"/>
<rect x="1174" y="679" width="1" height="43" fill="#c0c0c0"/>
<rect x="1182" y="679" width="1" height="30" fill="#c0c0c0"/>
<rect x="1190" y="679" width="1" height="22" fill="#c0c0c0"/>
<rect x="1198" y="679" width="1" height="17" fill="#c0c0c0"/>
<rect x="1206" y="679" width="1" height="15" fill="#c0c0c0"/>
<rect x="1214" y="679" width="1" height="10" fill="#c0c0c0"/>
<rect x="1222" y="679" width="1" height="19" fill="#c0c0c0"/>
<rect x="1230" y="679" width="1" height="34" fill="#c0c0c0"/>
<rect x="1238" y="679" width="1" height="38" fill="#c0c0c0"/>
<rect x="1246" y="679" width="1" height="42" fill="#c0c0c0"/>
<rect x="1254" y="679" width="1" height="45" fill="#c0c0c0"/>
<rect x="1262" y="679" width="1" height="49" fill="#c0c0c0"/>
<rect x="1270" y="679" width="1" height="55" fill="#c0c0c0"/>
<rect x="1278" y="679" width="1" height="64" fill="#c0c0c0"/>
<rect x="1286" y="679" width="1" height="66" fill="#c0c0c0"/>
<rect x="1294" y="679" width="1" height="62" fill="#c0c0c0"/>
<rect x="1302" y="679" width="1" height="57" fill="#c0c0c0"/>
<rect x="1310" y="679" width="1" height="53" fill="#c0c0c0"/>
<rect x="1318" y="679" width="1" height="42" fill="#c0c0c0"/>
<rect x="1326" y="679" width="1" height="33" fill="#c0c0c0"/>
<rect x="1334" y="679" width="1" height="31" fill="#c0c0c0"/>
<rect x="1342" y="679" width="1" height="27" fill="#c0c0c0"/>
<rect x="1350" y="679" width="1" height="24" fill="#c0c0c0"/>
<polyline points="-1.5,642.5 6.5,642.5 14.5,641.5 22.5,640.5 30.5,640.5 38.5,640.5 46.5,640.5 54.5,642.5 62.5,643.5 70.5,646.5 78.5,649.5 86.5,653.5 94.5,656.5 102.5,659.5 110.5,662.5 118.5,665.5 126.5,667.5 134.5,669.5 142.5,671.5 150.5,674.5 158.5,677.5 166.5,679.5 174.5,682.5 182.5,686.5 190.5,692.5 198.5,697.5 206.5,702.5 214.5,707.5 222.5,710.5 230.5,711.5 238.5,712.5 246.5,711.5 254.5,709.5 262.5,706.5 270.5,702.5 278.5,698.5 286.5,692.5 294.5,688.5 302.5,685.5 310.5,682.5 318.5,679.5 326.5,676.5 334.5,673.5 342.5,669.5 350.5,666.5 358.5,663.5 366.5,661.5 374.5,659.5 382.5,657.5 390.5,656.5 398.5,656.5 406.5,657.5 414.5,660.5 422.5,662.5 430.5,664.5 438.5,667.5 446.5,670.5 454.5,672.5 462.5,675.5 470.5,677.5 478.5,679.5 486.5,680.5 494.5,681.5 502.5,681.5 510.5,681.5 518.5,680.5 526.5,677.5 534.5,674.5 542.5,669.5 550.5,662.5 558.5,655.5 566.5,647.5 574.5,639.5 582.5,631.5 590.5,623.5 598.5,616.5 606.5,610.5 614.5,606.5 622.5,603.5 630.5,601.5 638.5,599.5 646.5,598.5 654.5,598.5 662.5,598.5 670.5,599.5 678.5,600.5 686.5,602.5 694.5,605.5 702.5,610.5 710.5,615.5 718.5,620.5 726.5,626.5 734.5,632.5 742.5,637.5 750.5,643.5 758.5,649.5 766.5,655.5 774.5,660.5 782.5,663.5 790.5,667.5 798.5,671.5 806.5,675.5 814.5,677.5 822.5,679.5 830.5,680.5 838.5,681.5 846.5,681.5 854.5,682.5 862.5,683.5 870.5,684.5 878.5,684.5 886.5,685.5 894.5,686.5 902.5,687.5 910.5,687.5 918.5,688.5 926.5,688.5 934.5,688.5 942.5,689.5 950.5,689.5 958.5,690.5 966.5,691.5 974.5,691.5 982.5,691.5 990.5,691.5 998.5,690.5 1006.5,688.5 1014.5,686.5 1022.5,682.5 1030.5,679.5 1038.5,676.5 1046.5,673.5 1054.5,671.5 1062.5,670.5 1070.5,669.5 1078.5,671.5 1086.5,673.5 1094.5,676.5 1102.5,681.5 1110.5,687.5 1118.5,693.5 1126.5,700.5 1134.5,707.5 1142.5,714.5 1150.5,721.5 1158.5,726.5 1166.5,730.5 1174.5,731.5 1182.5,730.5 1190.5,728.5 1198.5,724.5 1206.5,719.5 1214.5,712.5 1222.5,709.5 1230.5,706.5 1238.5,704.5 1246.5,704.5 1254.5,706.5 1262.5,709.5 1270.5,713.5 1278.5,719.5 1286.5,725.5 1294.5,730.5 1302.5,733.5 1310.5,734.5 1318.5,734.5 1326.5,732.5 1334.5,730.5 1342.5,727.5 1350.5,723.5" fill="none" stroke="#ff0000" stroke-width="1" stroke-dasharray="3 3"/>
<rect x="1618" y="679" width="2" height="1" fill="#000"/>
<text x="1621" y="594" font-size="10" stroke="#000" stroke-width="0.2" fill="#000" textLength="28" lengthAdjust="spacingAndGlyphs">177.21</text>
<rect x="1618" y="585" width="1" height="1" fill="#000"/>
<rect x="1618" y="752" width="1" height="1" fill="#000"/>
<rect x="1618" y="757" width="1" height="1" fill="#000"/>
<rect x="1618" y="928" width="1" height="1" fill="#000"/>
<text x="1621" y="683" font-size="10" stroke="#000" stroke-width="0.2" fill="#000" textLength="18" lengthAdjust="spacingAndGlyphs">0.00</text>
<text x="1621" y="750" font-size="10" stroke="#000" stroke-width="0.2" fill="#000" textLength="31" lengthAdjust="spacingAndGlyphs">-136.72</text>
<text x="3" y="596" font-size="10" stroke="#000" stroke-width="0.2" fill="#000" textLength="123" lengthAdjust="spacingAndGlyphs">MACD(12,26,9) -44.27 -81.40</text>
<line x1="-1" y1="791.5" x2="1617" y2="791.5" stroke="#c0c0c0" stroke-width="1" stroke-dasharray="3 3"/>
<line x1="-1" y1="842.5" x2="1617" y2="842.5" stroke="#c0c0c0" stroke-width="1" stroke-dasharray="3 3"/>
<line x1="-1" y1="903.5" x2="1617" y2="903.5" stroke="#c0c0c0" stroke-width="1" stroke-dasharray="3 3"/>
<polyline points="-1.5,806.5 6.5,805.5 14.5,828.5 22.5,835.5 30.5,832.5 38.5,830.5 46.5,829.5 54.5,830.5 62.5,828.5 70.5,848.5 78.5,852.5 86.5,850.5 94.5,855.5 102.5,856.5 110.5,846.5 118.5,820.5 126.5,817.5 134.5,849.5 142.5,865.5 150.5,861.5 158.5,860.5 166.5,843.5 174.5,860.5 182.5,870.5 190.5,860.5 198.5,857.5 206.5,855.5 214.5,856.5 222.5,847.5 230.5,838.5 238.5,836.5 246.5,835.5 254.5,841.5 262.5,841.5 270.5,830.5 278.5,837.5 286.5,842.5 294.5,839.5 302.5,838.5 310.5,837.5 318.5,833.5 326.5,820.5 334.5,819.5 342.5,822.5 350.5,820.5 358.5,835.5 366.5,838.5 374.5,834.5 382.5,840.5 390.5,843.5 398.5,845.5 406.5,837.5 414.5,855.5 422.5,850.5 430.5,842.5 438.5,844.5 446.5,845.5 454.5,851.5 462.5,852.5 470.5,843.5 478.5,842.5 486.5,840.5 494.5,840.5 502.5,839.5 510.5,837.5 518.5,816.5 526.5,810.5 534.5,803.5 542.5,793.5 550.5,790.5 558.5,787.5 566.5,816.5 574.5,813.5 582.5,813.5 590.5,811.5 598.5,807.5 606.5,808.5 614.5,805.5 622.5,799.5 630.5,804.5 638.5,808.5 646.5,813.5 654.5,822.5 662.5,819.5 670.5,818.5 678.5,817.5 686.5,823.5 694.5,835.5 702.5,843.5 710.5,839.5 718.5,839.5 726.5,841.5 734.5,845.5 742.5,849.5 750.5,849.5 758.5,856.5 766.5,851.5 774.5,852.5 782.5,841.5 790.5,846.5 798.5,850.5 806.5,847.5 814.5,841.5 822.5,847.5 830.5,838.5 838.5,851.5 846.5,853.5 854.5,854.5 862.5,847.5 870.5,849.5 878.5,848.5 886.5,855.5 894.5,849.5 902.5,853.5 910.5,849.5 918.5,847.5 926.5,850.5 934.5,855.5 942.5,863.5 950.5,862.5 958.5,862.5 966.5,864.5 974.5,857.5 982.5,827.5 990.5,826.5 998.5,819.5 1006.5,814.5 1014.5,817.5 1022.5,814.5 1030.5,823.5 1038.5,831.5 1046.5,847.5 1054.5,847.5 1062.5,851.5 1070.5,855.5 1078.5,869.5 1086.5,873.5 1094.5,886.5 1102.5,891.5 1110.5,895.5 1118.5,889.5 1126.5,892.5 1134.5,893.5 1142.5,885.5 1150.5,880.5 1158.5,872.5 1166.5,855.5 1174.5,837.5 1182.5,824.5 1190.5,832.5 1198.5,842.5 1206.5,843.5 1214.5,833.5 1222.5,864.5 1230.5,875.5 1238.5,859.5 1246.5,860.5 1254.5,859.5 1262.5,865.5 1270.5,869.5 1278.5,873.5 1286.5,866.5 1294.5,853.5 1302.5,852.5 1310.5,854.5 1318.5,837.5 1326.5,838.5 1334.5,848.5 1342.5,845.5 1350.5,845.5" fill="none" stroke="#1e90ff" stroke-width="1"/>
<text x="1621" y="766" font-size="10" stroke="#000" stroke-width="0.2" fill="#000" textLength="14" lengthAdjust="spacingAndGlyphs">100</text>
<text x="1621" y="795" font-size="10" stroke="#000" stroke-width="0.2" fill="#000" textLength="9" lengthAdjust="spacingAndGlyphs">80</text>
<text x="1621" y="846" font-size="10" stroke="#000" stroke-width="0.2" fill="#000" textLength="9" lengthAdjust="spacingAndGlyphs">50</text>
<text x="1621" y="907" font-size="10" stroke="#000" stroke-width="0.2" fill="#000" textLength="9" lengthAdjust="spacingAndGlyphs">15</text>
<text x="1621" y="926" font-size="10" stroke="#000" stroke-width="0.2" fill="#000" textLength="4.5" lengthAdjust="spacingAndGlyphs">0</text>
<text x="3" y="768" font-size="10" stroke="#000" stroke-width="0.2" fill="#000" textLength="67" lengthAdjust="spacingAndGlyphs">RSI(14) 48.7546</text>
<text x="-3" y="942" font-size="10" stroke="#000" stroke-width="0.2" fill="#000" textLength="52" lengthAdjust="spacingAndGlyphs">27 Nov 2019</text>
<rect x="62" y="930" width="1" height="3" fill="#000"/>
<text x="61" y="942" font-size="10" stroke="#000" stroke-width="0.2" fill="#000" textLength="55" lengthAdjust="spacingAndGlyphs">28 Nov 23:30</text>
<rect x="126" y="930" width="1" height="3" fill="#000"/>
<text x="125" y="942" font-size="10" stroke="#000" stroke-width="0.2" fill="#000" textLength="49" lengthAdjust="spacingAndGlyphs">2 Dec 04:00</text>
<rect x="190" y="930" width="1" height="3" fill="#000"/>
<text x="189" y="942" font-size="10" stroke="#000" stroke-width="0.2" fill="#000" textLength="49" lengthAdjust="spacingAndGlyphs">3 Dec 14:55</text>
<rect x="254" y="930" width="1" height="3" fill="#000"/>
<text x="253" y="942" font-size="10" stroke="#000" stroke-width="0.2" fill="#000" textLength="49" lengthAdjust="spacingAndGlyphs">4 Dec 23:30</text>
<rect x="318" y="930" width="1" height="3" fill="#000"/>
<text x="317" y="942" font-size="10" stroke="#000" stroke-width="0.2" fill="#000" textLength="49" lengthAdjust="spacingAndGlyphs">6 Dec 04:00</text>
<rect x="382" y="930" width="1" height="3" fill="#000"/>
<text x="381" y="942" font-size="10" stroke="#000" stroke-width="0.2" fill="#000" textLength="49" lengthAdjust="spacingAndGlyphs">9 Dec 14:55</text>
<rect x="446" y="930" width="1" height="3" fill="#000"/>
<text x="445" y="942" font-size="10" stroke="#000" stroke-width="0.2" fill="#000" textLength="54" lengthAdjust="spacingAndGlyphs">10 Dec 23:30</text>
<rect x="510" y="930" width="1" height="3" fill="#000"/>
<text x="509" y="942" font-size="10" stroke="#000" stroke-width="0.2" fill="#000" textLength="54" lengthAdjust="spacingAndGlyphs">12 Dec 04:00</text>
<rect x="574" y="930" width="1" height="3" fill="#000"/>
<text x="573" y="942" font-size="10" stroke="#000" stroke-width="0.2" fill="#000" textLength="54" lengthAdjust="spacingAndGlyphs">13 Dec 14:55</text>
<rect x="638" y="930" width="1" height="3" fill="#000"/>
<text x="637" y="942" font-size="10" stroke="#000" stroke-width="0.2" fill="#000" textLength="54" lengthAdjust="spacingAndGlyphs">16 Dec 23:30</text>
<rect x="702" y="930" width="1" height="3" fill="#000"/>
<text x="701" y="942" font-size="10" stroke="#000" stroke-width="0.2" fill="#000" textLength="54" lengthAdjust="spacingAndGlyphs">18 Dec 04:00</text>
<rect x="766" y="930" width="1" height="3" fill="#000"/>
<text x="765" y="942" font-size="10" stroke="#000" stroke-width="0.2" fill="#000" textLength="54" lengthAdjust="spacingAndGlyphs">19 Dec 14:55</text>
<rect x="830" y="930" width="1" height="3" fill="#000"/>
<text x="829" y="942" font-size="10" stroke="#000" stroke-width="0.2" fill="#000" textLength="54" lengthAdjust="spacingAndGlyphs">22 Dec 23:30</text>
<rect x="894" y="930" width="1" height="3" fill="#000"/>
<text x="893" y="942" font-size="10" stroke="#000" stroke-width="0.2" fill="#000" textLength="54" lengthAdjust="spacingAndGlyphs">24 Dec 04:00</text>
<rect x="958" y="930" width="1" height="3" fill="#000"/>
<text x="957" y="942" font-size="10" stroke="#000" stroke-width="0.2" fill="#000" textLength="54" lengthAdjust="spacingAndGlyphs">25 Dec 14:55</text>
<rect x="1022" y="930" width="1" height="3" fill="#000"/>
<text x="1021" y="942" font-size="10" stroke="#000" stroke-width="0.2" fill="#000" textLength="54" lengthAdjust="spacingAndGlyphs">26 Dec 23:30</text>
<rect x="1086" y="930" width="1" height="3" fill="#000"/>
<text x="1085" y="942" font-size="10" stroke="#000" stroke-width="0.2" fill="#000" textLength="54" lengthAdjust="spacingAndGlyphs">30 Dec 04:00</text>
<rect x="1150" y="930" width="1" height="3" fill="#000"/>
<text x="1149" y="942" font-size="10" stroke="#000" stroke-width="0.2" fill="#000" textLength="54" lengthAdjust="spacingAndGlyphs">31 Dec 14:55</text>
<rect x="1214" y="930" width="1" height="3" fill="#000"/>
<text x="1213" y="942" font-size="10" stroke="#000" stroke-width="0.2" fill="#000" textLength="48" lengthAdjust="spacingAndGlyphs">2 Jan 23:30</text>
<rect x="1278" y="930" width="1" height="3" fill="#000"/>
<text x="1277" y="942" font-size="10" stroke="#000" stroke-width="0.2" fill="#000" textLength="48" lengthAdjust="spacingAndGlyphs">6 Jan 04:00</text>
<rect x="1342" y="930" width="1" height="3" fill="#000"/>
<text x="1341" y="942" font-size="10" stroke="#000" stroke-width="0.2" fill="#000" textLength="48" lengthAdjust="spacingAndGlyphs">7 Jan 14:55</text>
<polygon points="1.5,48.5 52.5,48.5 52.5,72.5 109.5,72.5 109.5,111.5 1.5,111.5" fill="url(#gr)" stroke="#c00000" stroke-width="1"/>
<polygon points="219.5,48.5 168.5,48.5 168.5,72.5 112.5,72.5 112.5,111.5 219.5,111.5" fill="url(#gr)" stroke="#c00000" stroke-width="1"/>
<rect x="5" y="71" width="44" height="1" fill="#9a0000"/><rect x="5" y="72" width="44" height="1" fill="#f07070"/>
<rect x="172" y="71" width="44" height="1" fill="#9a0000"/><rect x="172" y="72" width="44" height="1" fill="#f07070"/>
<text x="13.3" y="64" font-size="12.6" fill="#fff" shape-rendering="geometricPrecision" textLength="25.5" lengthAdjust="spacingAndGlyphs">SELL</text>
<text x="181.5" y="64" font-size="12.6" fill="#fff" shape-rendering="geometricPrecision" textLength="23" lengthAdjust="spacingAndGlyphs">BUY</text>
<text x="17" y="103" font-size="12" font-weight="bold" fill="#fff" shape-rendering="geometricPrecision" textLength="34.6" lengthAdjust="spacingAndGlyphs">23371</text>
<text x="127" y="103" font-size="12" font-weight="bold" fill="#fff" shape-rendering="geometricPrecision" textLength="34.6" lengthAdjust="spacingAndGlyphs">23394</text>
<text x="55.2" y="103" font-size="22" font-weight="bold" fill="#fff" shape-rendering="geometricPrecision">.</text><text x="61.5" y="103" font-family="'Noto Sans CJK SC','Liberation Sans',sans-serif" font-weight="300" font-size="32.5" fill="#fff" shape-rendering="geometricPrecision" textLength="18.6" lengthAdjust="spacingAndGlyphs">0</text>
<text x="166.2" y="103" font-size="22" font-weight="bold" fill="#fff" shape-rendering="geometricPrecision">.</text><text x="172.5" y="103" font-family="'Noto Sans CJK SC','Liberation Sans',sans-serif" font-weight="300" font-size="32.5" fill="#fff" shape-rendering="geometricPrecision" textLength="18.6" lengthAdjust="spacingAndGlyphs">0</text>
<rect x="55" y="48" width="111" height="23" fill="#fff" stroke="#a8acb4" stroke-width="1" transform="translate(0.5,0.5)"/>
<rect x="57" y="50" width="19" height="19" fill="url(#gb)"/>
<rect x="145" y="50" width="19" height="19" fill="url(#gb)"/>
<rect x="76" y="49" width="1" height="21" fill="#a8acb4"/><rect x="144" y="49" width="1" height="21" fill="#a8acb4"/>
<polygon points="63,57 69,57 66,60.5" fill="#4a5ab8" shape-rendering="geometricPrecision"/>
<polygon points="151,60 157,60 154,56.5" fill="#4a5ab8" shape-rendering="geometricPrecision"/>
<text x="140.5" y="63" font-size="12.3" fill="#000" text-anchor="end" shape-rendering="geometricPrecision">1.00</text>
<polygon points="1,39 8,39 4.5,35" fill="#000" shape-rendering="geometricPrecision"/>
<text x="13" y="40" font-size="10" stroke="#000" stroke-width="0.2" fill="#000" textLength="197" lengthAdjust="spacingAndGlyphs">JPN225-,H4  23372.5 23382.5 23347.5 23372.5</text>
<rect x="1352" y="29" width="9" height="1" fill="#c0c0c0"/>
<rect x="1353" y="30" width="7" height="1" fill="#c0c0c0"/>
<rect x="1354" y="31" width="5" height="1" fill="#c0c0c0"/>
<rect x="1355" y="32" width="3" height="1" fill="#c0c0c0"/>
<rect x="1356" y="33" width="1" height="1" fill="#c0c0c0"/>
</svg>
</body></html>
